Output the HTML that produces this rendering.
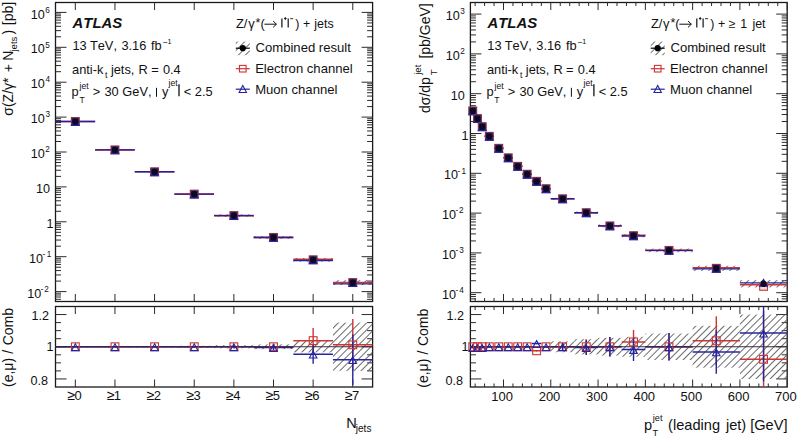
<!DOCTYPE html>
<html><head><meta charset="utf-8"><style>
html,body{margin:0;padding:0;background:#fff;}
svg{display:block;}
text{font-family:"Liberation Sans", sans-serif;fill:#111;font-kerning:none;}
</style></head><body>
<svg width="798" height="440" viewBox="0 0 798 440">
<defs><pattern id="h" patternUnits="userSpaceOnUse" width="5" height="5" patternTransform="rotate(45)"><line x1="2.5" y1="0" x2="2.5" y2="5" stroke="#5a5a5a" stroke-width="0.9"/></pattern><clipPath id="cl"><rect x="55.5" y="2.5" width="317.1" height="299.0"/></clipPath><clipPath id="cr"><rect x="470.4" y="2.5" width="316.80000000000007" height="299.0"/></clipPath><clipPath id="clr"><rect x="55.5" y="306.5" width="317.1" height="80.5"/></clipPath><clipPath id="crr"><rect x="470.4" y="306.5" width="316.80000000000007" height="80.5"/></clipPath></defs>
<rect x="55.50" y="2.50" width="317.10" height="299.00" fill="none" stroke="#1a1a1a" stroke-width="1.3"/>
<rect x="55.50" y="306.50" width="317.10" height="80.50" fill="none" stroke="#1a1a1a" stroke-width="1.3"/>
<rect x="470.40" y="2.50" width="316.80" height="299.00" fill="none" stroke="#1a1a1a" stroke-width="1.3"/>
<rect x="470.40" y="306.50" width="316.80" height="80.50" fill="none" stroke="#1a1a1a" stroke-width="1.3"/>
<line x1="55.50" y1="299.34" x2="61.00" y2="299.34" stroke="#2a2a2a" stroke-width="1.0" />
<line x1="372.60" y1="299.34" x2="367.10" y2="299.34" stroke="#2a2a2a" stroke-width="1.0" />
<line x1="55.50" y1="297.01" x2="61.00" y2="297.01" stroke="#2a2a2a" stroke-width="1.0" />
<line x1="372.60" y1="297.01" x2="367.10" y2="297.01" stroke="#2a2a2a" stroke-width="1.0" />
<line x1="55.50" y1="294.98" x2="61.00" y2="294.98" stroke="#2a2a2a" stroke-width="1.0" />
<line x1="372.60" y1="294.98" x2="367.10" y2="294.98" stroke="#2a2a2a" stroke-width="1.0" />
<line x1="55.50" y1="293.20" x2="61.00" y2="293.20" stroke="#2a2a2a" stroke-width="1.0" />
<line x1="372.60" y1="293.20" x2="367.10" y2="293.20" stroke="#2a2a2a" stroke-width="1.0" />
<line x1="55.50" y1="291.60" x2="66.50" y2="291.60" stroke="#2a2a2a" stroke-width="1.0" />
<line x1="372.60" y1="291.60" x2="361.60" y2="291.60" stroke="#2a2a2a" stroke-width="1.0" />
<line x1="55.50" y1="281.09" x2="61.00" y2="281.09" stroke="#2a2a2a" stroke-width="1.0" />
<line x1="372.60" y1="281.09" x2="367.10" y2="281.09" stroke="#2a2a2a" stroke-width="1.0" />
<line x1="55.50" y1="274.95" x2="61.00" y2="274.95" stroke="#2a2a2a" stroke-width="1.0" />
<line x1="372.60" y1="274.95" x2="367.10" y2="274.95" stroke="#2a2a2a" stroke-width="1.0" />
<line x1="55.50" y1="270.59" x2="61.00" y2="270.59" stroke="#2a2a2a" stroke-width="1.0" />
<line x1="372.60" y1="270.59" x2="367.10" y2="270.59" stroke="#2a2a2a" stroke-width="1.0" />
<line x1="55.50" y1="267.21" x2="61.00" y2="267.21" stroke="#2a2a2a" stroke-width="1.0" />
<line x1="372.60" y1="267.21" x2="367.10" y2="267.21" stroke="#2a2a2a" stroke-width="1.0" />
<line x1="55.50" y1="264.44" x2="61.00" y2="264.44" stroke="#2a2a2a" stroke-width="1.0" />
<line x1="372.60" y1="264.44" x2="367.10" y2="264.44" stroke="#2a2a2a" stroke-width="1.0" />
<line x1="55.50" y1="262.11" x2="61.00" y2="262.11" stroke="#2a2a2a" stroke-width="1.0" />
<line x1="372.60" y1="262.11" x2="367.10" y2="262.11" stroke="#2a2a2a" stroke-width="1.0" />
<line x1="55.50" y1="260.08" x2="61.00" y2="260.08" stroke="#2a2a2a" stroke-width="1.0" />
<line x1="372.60" y1="260.08" x2="367.10" y2="260.08" stroke="#2a2a2a" stroke-width="1.0" />
<line x1="55.50" y1="258.30" x2="61.00" y2="258.30" stroke="#2a2a2a" stroke-width="1.0" />
<line x1="372.60" y1="258.30" x2="367.10" y2="258.30" stroke="#2a2a2a" stroke-width="1.0" />
<line x1="55.50" y1="256.70" x2="66.50" y2="256.70" stroke="#2a2a2a" stroke-width="1.0" />
<line x1="372.60" y1="256.70" x2="361.60" y2="256.70" stroke="#2a2a2a" stroke-width="1.0" />
<line x1="55.50" y1="246.19" x2="61.00" y2="246.19" stroke="#2a2a2a" stroke-width="1.0" />
<line x1="372.60" y1="246.19" x2="367.10" y2="246.19" stroke="#2a2a2a" stroke-width="1.0" />
<line x1="55.50" y1="240.05" x2="61.00" y2="240.05" stroke="#2a2a2a" stroke-width="1.0" />
<line x1="372.60" y1="240.05" x2="367.10" y2="240.05" stroke="#2a2a2a" stroke-width="1.0" />
<line x1="55.50" y1="235.69" x2="61.00" y2="235.69" stroke="#2a2a2a" stroke-width="1.0" />
<line x1="372.60" y1="235.69" x2="367.10" y2="235.69" stroke="#2a2a2a" stroke-width="1.0" />
<line x1="55.50" y1="232.31" x2="61.00" y2="232.31" stroke="#2a2a2a" stroke-width="1.0" />
<line x1="372.60" y1="232.31" x2="367.10" y2="232.31" stroke="#2a2a2a" stroke-width="1.0" />
<line x1="55.50" y1="229.54" x2="61.00" y2="229.54" stroke="#2a2a2a" stroke-width="1.0" />
<line x1="372.60" y1="229.54" x2="367.10" y2="229.54" stroke="#2a2a2a" stroke-width="1.0" />
<line x1="55.50" y1="227.21" x2="61.00" y2="227.21" stroke="#2a2a2a" stroke-width="1.0" />
<line x1="372.60" y1="227.21" x2="367.10" y2="227.21" stroke="#2a2a2a" stroke-width="1.0" />
<line x1="55.50" y1="225.18" x2="61.00" y2="225.18" stroke="#2a2a2a" stroke-width="1.0" />
<line x1="372.60" y1="225.18" x2="367.10" y2="225.18" stroke="#2a2a2a" stroke-width="1.0" />
<line x1="55.50" y1="223.40" x2="61.00" y2="223.40" stroke="#2a2a2a" stroke-width="1.0" />
<line x1="372.60" y1="223.40" x2="367.10" y2="223.40" stroke="#2a2a2a" stroke-width="1.0" />
<line x1="55.50" y1="221.80" x2="66.50" y2="221.80" stroke="#2a2a2a" stroke-width="1.0" />
<line x1="372.60" y1="221.80" x2="361.60" y2="221.80" stroke="#2a2a2a" stroke-width="1.0" />
<line x1="55.50" y1="211.29" x2="61.00" y2="211.29" stroke="#2a2a2a" stroke-width="1.0" />
<line x1="372.60" y1="211.29" x2="367.10" y2="211.29" stroke="#2a2a2a" stroke-width="1.0" />
<line x1="55.50" y1="205.15" x2="61.00" y2="205.15" stroke="#2a2a2a" stroke-width="1.0" />
<line x1="372.60" y1="205.15" x2="367.10" y2="205.15" stroke="#2a2a2a" stroke-width="1.0" />
<line x1="55.50" y1="200.79" x2="61.00" y2="200.79" stroke="#2a2a2a" stroke-width="1.0" />
<line x1="372.60" y1="200.79" x2="367.10" y2="200.79" stroke="#2a2a2a" stroke-width="1.0" />
<line x1="55.50" y1="197.41" x2="61.00" y2="197.41" stroke="#2a2a2a" stroke-width="1.0" />
<line x1="372.60" y1="197.41" x2="367.10" y2="197.41" stroke="#2a2a2a" stroke-width="1.0" />
<line x1="55.50" y1="194.64" x2="61.00" y2="194.64" stroke="#2a2a2a" stroke-width="1.0" />
<line x1="372.60" y1="194.64" x2="367.10" y2="194.64" stroke="#2a2a2a" stroke-width="1.0" />
<line x1="55.50" y1="192.31" x2="61.00" y2="192.31" stroke="#2a2a2a" stroke-width="1.0" />
<line x1="372.60" y1="192.31" x2="367.10" y2="192.31" stroke="#2a2a2a" stroke-width="1.0" />
<line x1="55.50" y1="190.28" x2="61.00" y2="190.28" stroke="#2a2a2a" stroke-width="1.0" />
<line x1="372.60" y1="190.28" x2="367.10" y2="190.28" stroke="#2a2a2a" stroke-width="1.0" />
<line x1="55.50" y1="188.50" x2="61.00" y2="188.50" stroke="#2a2a2a" stroke-width="1.0" />
<line x1="372.60" y1="188.50" x2="367.10" y2="188.50" stroke="#2a2a2a" stroke-width="1.0" />
<line x1="55.50" y1="186.90" x2="66.50" y2="186.90" stroke="#2a2a2a" stroke-width="1.0" />
<line x1="372.60" y1="186.90" x2="361.60" y2="186.90" stroke="#2a2a2a" stroke-width="1.0" />
<line x1="55.50" y1="176.39" x2="61.00" y2="176.39" stroke="#2a2a2a" stroke-width="1.0" />
<line x1="372.60" y1="176.39" x2="367.10" y2="176.39" stroke="#2a2a2a" stroke-width="1.0" />
<line x1="55.50" y1="170.25" x2="61.00" y2="170.25" stroke="#2a2a2a" stroke-width="1.0" />
<line x1="372.60" y1="170.25" x2="367.10" y2="170.25" stroke="#2a2a2a" stroke-width="1.0" />
<line x1="55.50" y1="165.89" x2="61.00" y2="165.89" stroke="#2a2a2a" stroke-width="1.0" />
<line x1="372.60" y1="165.89" x2="367.10" y2="165.89" stroke="#2a2a2a" stroke-width="1.0" />
<line x1="55.50" y1="162.51" x2="61.00" y2="162.51" stroke="#2a2a2a" stroke-width="1.0" />
<line x1="372.60" y1="162.51" x2="367.10" y2="162.51" stroke="#2a2a2a" stroke-width="1.0" />
<line x1="55.50" y1="159.74" x2="61.00" y2="159.74" stroke="#2a2a2a" stroke-width="1.0" />
<line x1="372.60" y1="159.74" x2="367.10" y2="159.74" stroke="#2a2a2a" stroke-width="1.0" />
<line x1="55.50" y1="157.41" x2="61.00" y2="157.41" stroke="#2a2a2a" stroke-width="1.0" />
<line x1="372.60" y1="157.41" x2="367.10" y2="157.41" stroke="#2a2a2a" stroke-width="1.0" />
<line x1="55.50" y1="155.38" x2="61.00" y2="155.38" stroke="#2a2a2a" stroke-width="1.0" />
<line x1="372.60" y1="155.38" x2="367.10" y2="155.38" stroke="#2a2a2a" stroke-width="1.0" />
<line x1="55.50" y1="153.60" x2="61.00" y2="153.60" stroke="#2a2a2a" stroke-width="1.0" />
<line x1="372.60" y1="153.60" x2="367.10" y2="153.60" stroke="#2a2a2a" stroke-width="1.0" />
<line x1="55.50" y1="152.00" x2="66.50" y2="152.00" stroke="#2a2a2a" stroke-width="1.0" />
<line x1="372.60" y1="152.00" x2="361.60" y2="152.00" stroke="#2a2a2a" stroke-width="1.0" />
<line x1="55.50" y1="141.49" x2="61.00" y2="141.49" stroke="#2a2a2a" stroke-width="1.0" />
<line x1="372.60" y1="141.49" x2="367.10" y2="141.49" stroke="#2a2a2a" stroke-width="1.0" />
<line x1="55.50" y1="135.35" x2="61.00" y2="135.35" stroke="#2a2a2a" stroke-width="1.0" />
<line x1="372.60" y1="135.35" x2="367.10" y2="135.35" stroke="#2a2a2a" stroke-width="1.0" />
<line x1="55.50" y1="130.99" x2="61.00" y2="130.99" stroke="#2a2a2a" stroke-width="1.0" />
<line x1="372.60" y1="130.99" x2="367.10" y2="130.99" stroke="#2a2a2a" stroke-width="1.0" />
<line x1="55.50" y1="127.61" x2="61.00" y2="127.61" stroke="#2a2a2a" stroke-width="1.0" />
<line x1="372.60" y1="127.61" x2="367.10" y2="127.61" stroke="#2a2a2a" stroke-width="1.0" />
<line x1="55.50" y1="124.84" x2="61.00" y2="124.84" stroke="#2a2a2a" stroke-width="1.0" />
<line x1="372.60" y1="124.84" x2="367.10" y2="124.84" stroke="#2a2a2a" stroke-width="1.0" />
<line x1="55.50" y1="122.51" x2="61.00" y2="122.51" stroke="#2a2a2a" stroke-width="1.0" />
<line x1="372.60" y1="122.51" x2="367.10" y2="122.51" stroke="#2a2a2a" stroke-width="1.0" />
<line x1="55.50" y1="120.48" x2="61.00" y2="120.48" stroke="#2a2a2a" stroke-width="1.0" />
<line x1="372.60" y1="120.48" x2="367.10" y2="120.48" stroke="#2a2a2a" stroke-width="1.0" />
<line x1="55.50" y1="118.70" x2="61.00" y2="118.70" stroke="#2a2a2a" stroke-width="1.0" />
<line x1="372.60" y1="118.70" x2="367.10" y2="118.70" stroke="#2a2a2a" stroke-width="1.0" />
<line x1="55.50" y1="117.10" x2="66.50" y2="117.10" stroke="#2a2a2a" stroke-width="1.0" />
<line x1="372.60" y1="117.10" x2="361.60" y2="117.10" stroke="#2a2a2a" stroke-width="1.0" />
<line x1="55.50" y1="106.59" x2="61.00" y2="106.59" stroke="#2a2a2a" stroke-width="1.0" />
<line x1="372.60" y1="106.59" x2="367.10" y2="106.59" stroke="#2a2a2a" stroke-width="1.0" />
<line x1="55.50" y1="100.45" x2="61.00" y2="100.45" stroke="#2a2a2a" stroke-width="1.0" />
<line x1="372.60" y1="100.45" x2="367.10" y2="100.45" stroke="#2a2a2a" stroke-width="1.0" />
<line x1="55.50" y1="96.09" x2="61.00" y2="96.09" stroke="#2a2a2a" stroke-width="1.0" />
<line x1="372.60" y1="96.09" x2="367.10" y2="96.09" stroke="#2a2a2a" stroke-width="1.0" />
<line x1="55.50" y1="92.71" x2="61.00" y2="92.71" stroke="#2a2a2a" stroke-width="1.0" />
<line x1="372.60" y1="92.71" x2="367.10" y2="92.71" stroke="#2a2a2a" stroke-width="1.0" />
<line x1="55.50" y1="89.94" x2="61.00" y2="89.94" stroke="#2a2a2a" stroke-width="1.0" />
<line x1="372.60" y1="89.94" x2="367.10" y2="89.94" stroke="#2a2a2a" stroke-width="1.0" />
<line x1="55.50" y1="87.61" x2="61.00" y2="87.61" stroke="#2a2a2a" stroke-width="1.0" />
<line x1="372.60" y1="87.61" x2="367.10" y2="87.61" stroke="#2a2a2a" stroke-width="1.0" />
<line x1="55.50" y1="85.58" x2="61.00" y2="85.58" stroke="#2a2a2a" stroke-width="1.0" />
<line x1="372.60" y1="85.58" x2="367.10" y2="85.58" stroke="#2a2a2a" stroke-width="1.0" />
<line x1="55.50" y1="83.80" x2="61.00" y2="83.80" stroke="#2a2a2a" stroke-width="1.0" />
<line x1="372.60" y1="83.80" x2="367.10" y2="83.80" stroke="#2a2a2a" stroke-width="1.0" />
<line x1="55.50" y1="82.20" x2="66.50" y2="82.20" stroke="#2a2a2a" stroke-width="1.0" />
<line x1="372.60" y1="82.20" x2="361.60" y2="82.20" stroke="#2a2a2a" stroke-width="1.0" />
<line x1="55.50" y1="71.69" x2="61.00" y2="71.69" stroke="#2a2a2a" stroke-width="1.0" />
<line x1="372.60" y1="71.69" x2="367.10" y2="71.69" stroke="#2a2a2a" stroke-width="1.0" />
<line x1="55.50" y1="65.55" x2="61.00" y2="65.55" stroke="#2a2a2a" stroke-width="1.0" />
<line x1="372.60" y1="65.55" x2="367.10" y2="65.55" stroke="#2a2a2a" stroke-width="1.0" />
<line x1="55.50" y1="61.19" x2="61.00" y2="61.19" stroke="#2a2a2a" stroke-width="1.0" />
<line x1="372.60" y1="61.19" x2="367.10" y2="61.19" stroke="#2a2a2a" stroke-width="1.0" />
<line x1="55.50" y1="57.81" x2="61.00" y2="57.81" stroke="#2a2a2a" stroke-width="1.0" />
<line x1="372.60" y1="57.81" x2="367.10" y2="57.81" stroke="#2a2a2a" stroke-width="1.0" />
<line x1="55.50" y1="55.04" x2="61.00" y2="55.04" stroke="#2a2a2a" stroke-width="1.0" />
<line x1="372.60" y1="55.04" x2="367.10" y2="55.04" stroke="#2a2a2a" stroke-width="1.0" />
<line x1="55.50" y1="52.71" x2="61.00" y2="52.71" stroke="#2a2a2a" stroke-width="1.0" />
<line x1="372.60" y1="52.71" x2="367.10" y2="52.71" stroke="#2a2a2a" stroke-width="1.0" />
<line x1="55.50" y1="50.68" x2="61.00" y2="50.68" stroke="#2a2a2a" stroke-width="1.0" />
<line x1="372.60" y1="50.68" x2="367.10" y2="50.68" stroke="#2a2a2a" stroke-width="1.0" />
<line x1="55.50" y1="48.90" x2="61.00" y2="48.90" stroke="#2a2a2a" stroke-width="1.0" />
<line x1="372.60" y1="48.90" x2="367.10" y2="48.90" stroke="#2a2a2a" stroke-width="1.0" />
<line x1="55.50" y1="47.30" x2="66.50" y2="47.30" stroke="#2a2a2a" stroke-width="1.0" />
<line x1="372.60" y1="47.30" x2="361.60" y2="47.30" stroke="#2a2a2a" stroke-width="1.0" />
<line x1="55.50" y1="36.79" x2="61.00" y2="36.79" stroke="#2a2a2a" stroke-width="1.0" />
<line x1="372.60" y1="36.79" x2="367.10" y2="36.79" stroke="#2a2a2a" stroke-width="1.0" />
<line x1="55.50" y1="30.65" x2="61.00" y2="30.65" stroke="#2a2a2a" stroke-width="1.0" />
<line x1="372.60" y1="30.65" x2="367.10" y2="30.65" stroke="#2a2a2a" stroke-width="1.0" />
<line x1="55.50" y1="26.29" x2="61.00" y2="26.29" stroke="#2a2a2a" stroke-width="1.0" />
<line x1="372.60" y1="26.29" x2="367.10" y2="26.29" stroke="#2a2a2a" stroke-width="1.0" />
<line x1="55.50" y1="22.91" x2="61.00" y2="22.91" stroke="#2a2a2a" stroke-width="1.0" />
<line x1="372.60" y1="22.91" x2="367.10" y2="22.91" stroke="#2a2a2a" stroke-width="1.0" />
<line x1="55.50" y1="20.14" x2="61.00" y2="20.14" stroke="#2a2a2a" stroke-width="1.0" />
<line x1="372.60" y1="20.14" x2="367.10" y2="20.14" stroke="#2a2a2a" stroke-width="1.0" />
<line x1="55.50" y1="17.81" x2="61.00" y2="17.81" stroke="#2a2a2a" stroke-width="1.0" />
<line x1="372.60" y1="17.81" x2="367.10" y2="17.81" stroke="#2a2a2a" stroke-width="1.0" />
<line x1="55.50" y1="15.78" x2="61.00" y2="15.78" stroke="#2a2a2a" stroke-width="1.0" />
<line x1="372.60" y1="15.78" x2="367.10" y2="15.78" stroke="#2a2a2a" stroke-width="1.0" />
<line x1="55.50" y1="14.00" x2="61.00" y2="14.00" stroke="#2a2a2a" stroke-width="1.0" />
<line x1="372.60" y1="14.00" x2="367.10" y2="14.00" stroke="#2a2a2a" stroke-width="1.0" />
<line x1="55.50" y1="12.40" x2="66.50" y2="12.40" stroke="#2a2a2a" stroke-width="1.0" />
<line x1="372.60" y1="12.40" x2="361.60" y2="12.40" stroke="#2a2a2a" stroke-width="1.0" />
<line x1="55.50" y1="378.95" x2="66.50" y2="378.95" stroke="#2a2a2a" stroke-width="1.0" />
<line x1="372.60" y1="378.95" x2="361.60" y2="378.95" stroke="#2a2a2a" stroke-width="1.0" />
<line x1="55.50" y1="370.90" x2="61.00" y2="370.90" stroke="#2a2a2a" stroke-width="1.0" />
<line x1="372.60" y1="370.90" x2="367.10" y2="370.90" stroke="#2a2a2a" stroke-width="1.0" />
<line x1="55.50" y1="362.85" x2="61.00" y2="362.85" stroke="#2a2a2a" stroke-width="1.0" />
<line x1="372.60" y1="362.85" x2="367.10" y2="362.85" stroke="#2a2a2a" stroke-width="1.0" />
<line x1="55.50" y1="354.80" x2="61.00" y2="354.80" stroke="#2a2a2a" stroke-width="1.0" />
<line x1="372.60" y1="354.80" x2="367.10" y2="354.80" stroke="#2a2a2a" stroke-width="1.0" />
<line x1="55.50" y1="346.75" x2="66.50" y2="346.75" stroke="#2a2a2a" stroke-width="1.0" />
<line x1="372.60" y1="346.75" x2="361.60" y2="346.75" stroke="#2a2a2a" stroke-width="1.0" />
<line x1="55.50" y1="338.70" x2="61.00" y2="338.70" stroke="#2a2a2a" stroke-width="1.0" />
<line x1="372.60" y1="338.70" x2="367.10" y2="338.70" stroke="#2a2a2a" stroke-width="1.0" />
<line x1="55.50" y1="330.65" x2="61.00" y2="330.65" stroke="#2a2a2a" stroke-width="1.0" />
<line x1="372.60" y1="330.65" x2="367.10" y2="330.65" stroke="#2a2a2a" stroke-width="1.0" />
<line x1="55.50" y1="322.60" x2="61.00" y2="322.60" stroke="#2a2a2a" stroke-width="1.0" />
<line x1="372.60" y1="322.60" x2="367.10" y2="322.60" stroke="#2a2a2a" stroke-width="1.0" />
<line x1="55.50" y1="314.55" x2="66.50" y2="314.55" stroke="#2a2a2a" stroke-width="1.0" />
<line x1="372.60" y1="314.55" x2="361.60" y2="314.55" stroke="#2a2a2a" stroke-width="1.0" />
<line x1="75.32" y1="2.50" x2="75.32" y2="10.00" stroke="#2a2a2a" stroke-width="1.0" />
<line x1="75.32" y1="301.50" x2="75.32" y2="294.00" stroke="#2a2a2a" stroke-width="1.0" />
<line x1="75.32" y1="306.50" x2="75.32" y2="314.00" stroke="#2a2a2a" stroke-width="1.0" />
<line x1="75.32" y1="387.00" x2="75.32" y2="379.50" stroke="#2a2a2a" stroke-width="1.0" />
<line x1="114.96" y1="2.50" x2="114.96" y2="10.00" stroke="#2a2a2a" stroke-width="1.0" />
<line x1="114.96" y1="301.50" x2="114.96" y2="294.00" stroke="#2a2a2a" stroke-width="1.0" />
<line x1="114.96" y1="306.50" x2="114.96" y2="314.00" stroke="#2a2a2a" stroke-width="1.0" />
<line x1="114.96" y1="387.00" x2="114.96" y2="379.50" stroke="#2a2a2a" stroke-width="1.0" />
<line x1="154.59" y1="2.50" x2="154.59" y2="10.00" stroke="#2a2a2a" stroke-width="1.0" />
<line x1="154.59" y1="301.50" x2="154.59" y2="294.00" stroke="#2a2a2a" stroke-width="1.0" />
<line x1="154.59" y1="306.50" x2="154.59" y2="314.00" stroke="#2a2a2a" stroke-width="1.0" />
<line x1="154.59" y1="387.00" x2="154.59" y2="379.50" stroke="#2a2a2a" stroke-width="1.0" />
<line x1="194.23" y1="2.50" x2="194.23" y2="10.00" stroke="#2a2a2a" stroke-width="1.0" />
<line x1="194.23" y1="301.50" x2="194.23" y2="294.00" stroke="#2a2a2a" stroke-width="1.0" />
<line x1="194.23" y1="306.50" x2="194.23" y2="314.00" stroke="#2a2a2a" stroke-width="1.0" />
<line x1="194.23" y1="387.00" x2="194.23" y2="379.50" stroke="#2a2a2a" stroke-width="1.0" />
<line x1="233.87" y1="2.50" x2="233.87" y2="10.00" stroke="#2a2a2a" stroke-width="1.0" />
<line x1="233.87" y1="301.50" x2="233.87" y2="294.00" stroke="#2a2a2a" stroke-width="1.0" />
<line x1="233.87" y1="306.50" x2="233.87" y2="314.00" stroke="#2a2a2a" stroke-width="1.0" />
<line x1="233.87" y1="387.00" x2="233.87" y2="379.50" stroke="#2a2a2a" stroke-width="1.0" />
<line x1="273.51" y1="2.50" x2="273.51" y2="10.00" stroke="#2a2a2a" stroke-width="1.0" />
<line x1="273.51" y1="301.50" x2="273.51" y2="294.00" stroke="#2a2a2a" stroke-width="1.0" />
<line x1="273.51" y1="306.50" x2="273.51" y2="314.00" stroke="#2a2a2a" stroke-width="1.0" />
<line x1="273.51" y1="387.00" x2="273.51" y2="379.50" stroke="#2a2a2a" stroke-width="1.0" />
<line x1="313.14" y1="2.50" x2="313.14" y2="10.00" stroke="#2a2a2a" stroke-width="1.0" />
<line x1="313.14" y1="301.50" x2="313.14" y2="294.00" stroke="#2a2a2a" stroke-width="1.0" />
<line x1="313.14" y1="306.50" x2="313.14" y2="314.00" stroke="#2a2a2a" stroke-width="1.0" />
<line x1="313.14" y1="387.00" x2="313.14" y2="379.50" stroke="#2a2a2a" stroke-width="1.0" />
<line x1="352.78" y1="2.50" x2="352.78" y2="10.00" stroke="#2a2a2a" stroke-width="1.0" />
<line x1="352.78" y1="301.50" x2="352.78" y2="294.00" stroke="#2a2a2a" stroke-width="1.0" />
<line x1="352.78" y1="306.50" x2="352.78" y2="314.00" stroke="#2a2a2a" stroke-width="1.0" />
<line x1="352.78" y1="387.00" x2="352.78" y2="379.50" stroke="#2a2a2a" stroke-width="1.0" />
<line x1="470.40" y1="298.87" x2="475.90" y2="298.87" stroke="#2a2a2a" stroke-width="1.0" />
<line x1="787.20" y1="298.87" x2="781.70" y2="298.87" stroke="#2a2a2a" stroke-width="1.0" />
<line x1="470.40" y1="296.56" x2="475.90" y2="296.56" stroke="#2a2a2a" stroke-width="1.0" />
<line x1="787.20" y1="296.56" x2="781.70" y2="296.56" stroke="#2a2a2a" stroke-width="1.0" />
<line x1="470.40" y1="294.52" x2="475.90" y2="294.52" stroke="#2a2a2a" stroke-width="1.0" />
<line x1="787.20" y1="294.52" x2="781.70" y2="294.52" stroke="#2a2a2a" stroke-width="1.0" />
<line x1="470.40" y1="292.70" x2="481.40" y2="292.70" stroke="#2a2a2a" stroke-width="1.0" />
<line x1="787.20" y1="292.70" x2="776.20" y2="292.70" stroke="#2a2a2a" stroke-width="1.0" />
<line x1="470.40" y1="280.72" x2="475.90" y2="280.72" stroke="#2a2a2a" stroke-width="1.0" />
<line x1="787.20" y1="280.72" x2="781.70" y2="280.72" stroke="#2a2a2a" stroke-width="1.0" />
<line x1="470.40" y1="273.71" x2="475.90" y2="273.71" stroke="#2a2a2a" stroke-width="1.0" />
<line x1="787.20" y1="273.71" x2="781.70" y2="273.71" stroke="#2a2a2a" stroke-width="1.0" />
<line x1="470.40" y1="268.74" x2="475.90" y2="268.74" stroke="#2a2a2a" stroke-width="1.0" />
<line x1="787.20" y1="268.74" x2="781.70" y2="268.74" stroke="#2a2a2a" stroke-width="1.0" />
<line x1="470.40" y1="264.88" x2="475.90" y2="264.88" stroke="#2a2a2a" stroke-width="1.0" />
<line x1="787.20" y1="264.88" x2="781.70" y2="264.88" stroke="#2a2a2a" stroke-width="1.0" />
<line x1="470.40" y1="261.73" x2="475.90" y2="261.73" stroke="#2a2a2a" stroke-width="1.0" />
<line x1="787.20" y1="261.73" x2="781.70" y2="261.73" stroke="#2a2a2a" stroke-width="1.0" />
<line x1="470.40" y1="259.07" x2="475.90" y2="259.07" stroke="#2a2a2a" stroke-width="1.0" />
<line x1="787.20" y1="259.07" x2="781.70" y2="259.07" stroke="#2a2a2a" stroke-width="1.0" />
<line x1="470.40" y1="256.76" x2="475.90" y2="256.76" stroke="#2a2a2a" stroke-width="1.0" />
<line x1="787.20" y1="256.76" x2="781.70" y2="256.76" stroke="#2a2a2a" stroke-width="1.0" />
<line x1="470.40" y1="254.72" x2="475.90" y2="254.72" stroke="#2a2a2a" stroke-width="1.0" />
<line x1="787.20" y1="254.72" x2="781.70" y2="254.72" stroke="#2a2a2a" stroke-width="1.0" />
<line x1="470.40" y1="252.90" x2="481.40" y2="252.90" stroke="#2a2a2a" stroke-width="1.0" />
<line x1="787.20" y1="252.90" x2="776.20" y2="252.90" stroke="#2a2a2a" stroke-width="1.0" />
<line x1="470.40" y1="240.92" x2="475.90" y2="240.92" stroke="#2a2a2a" stroke-width="1.0" />
<line x1="787.20" y1="240.92" x2="781.70" y2="240.92" stroke="#2a2a2a" stroke-width="1.0" />
<line x1="470.40" y1="233.91" x2="475.90" y2="233.91" stroke="#2a2a2a" stroke-width="1.0" />
<line x1="787.20" y1="233.91" x2="781.70" y2="233.91" stroke="#2a2a2a" stroke-width="1.0" />
<line x1="470.40" y1="228.94" x2="475.90" y2="228.94" stroke="#2a2a2a" stroke-width="1.0" />
<line x1="787.20" y1="228.94" x2="781.70" y2="228.94" stroke="#2a2a2a" stroke-width="1.0" />
<line x1="470.40" y1="225.08" x2="475.90" y2="225.08" stroke="#2a2a2a" stroke-width="1.0" />
<line x1="787.20" y1="225.08" x2="781.70" y2="225.08" stroke="#2a2a2a" stroke-width="1.0" />
<line x1="470.40" y1="221.93" x2="475.90" y2="221.93" stroke="#2a2a2a" stroke-width="1.0" />
<line x1="787.20" y1="221.93" x2="781.70" y2="221.93" stroke="#2a2a2a" stroke-width="1.0" />
<line x1="470.40" y1="219.27" x2="475.90" y2="219.27" stroke="#2a2a2a" stroke-width="1.0" />
<line x1="787.20" y1="219.27" x2="781.70" y2="219.27" stroke="#2a2a2a" stroke-width="1.0" />
<line x1="470.40" y1="216.96" x2="475.90" y2="216.96" stroke="#2a2a2a" stroke-width="1.0" />
<line x1="787.20" y1="216.96" x2="781.70" y2="216.96" stroke="#2a2a2a" stroke-width="1.0" />
<line x1="470.40" y1="214.92" x2="475.90" y2="214.92" stroke="#2a2a2a" stroke-width="1.0" />
<line x1="787.20" y1="214.92" x2="781.70" y2="214.92" stroke="#2a2a2a" stroke-width="1.0" />
<line x1="470.40" y1="213.10" x2="481.40" y2="213.10" stroke="#2a2a2a" stroke-width="1.0" />
<line x1="787.20" y1="213.10" x2="776.20" y2="213.10" stroke="#2a2a2a" stroke-width="1.0" />
<line x1="470.40" y1="201.12" x2="475.90" y2="201.12" stroke="#2a2a2a" stroke-width="1.0" />
<line x1="787.20" y1="201.12" x2="781.70" y2="201.12" stroke="#2a2a2a" stroke-width="1.0" />
<line x1="470.40" y1="194.11" x2="475.90" y2="194.11" stroke="#2a2a2a" stroke-width="1.0" />
<line x1="787.20" y1="194.11" x2="781.70" y2="194.11" stroke="#2a2a2a" stroke-width="1.0" />
<line x1="470.40" y1="189.14" x2="475.90" y2="189.14" stroke="#2a2a2a" stroke-width="1.0" />
<line x1="787.20" y1="189.14" x2="781.70" y2="189.14" stroke="#2a2a2a" stroke-width="1.0" />
<line x1="470.40" y1="185.28" x2="475.90" y2="185.28" stroke="#2a2a2a" stroke-width="1.0" />
<line x1="787.20" y1="185.28" x2="781.70" y2="185.28" stroke="#2a2a2a" stroke-width="1.0" />
<line x1="470.40" y1="182.13" x2="475.90" y2="182.13" stroke="#2a2a2a" stroke-width="1.0" />
<line x1="787.20" y1="182.13" x2="781.70" y2="182.13" stroke="#2a2a2a" stroke-width="1.0" />
<line x1="470.40" y1="179.47" x2="475.90" y2="179.47" stroke="#2a2a2a" stroke-width="1.0" />
<line x1="787.20" y1="179.47" x2="781.70" y2="179.47" stroke="#2a2a2a" stroke-width="1.0" />
<line x1="470.40" y1="177.16" x2="475.90" y2="177.16" stroke="#2a2a2a" stroke-width="1.0" />
<line x1="787.20" y1="177.16" x2="781.70" y2="177.16" stroke="#2a2a2a" stroke-width="1.0" />
<line x1="470.40" y1="175.12" x2="475.90" y2="175.12" stroke="#2a2a2a" stroke-width="1.0" />
<line x1="787.20" y1="175.12" x2="781.70" y2="175.12" stroke="#2a2a2a" stroke-width="1.0" />
<line x1="470.40" y1="173.30" x2="481.40" y2="173.30" stroke="#2a2a2a" stroke-width="1.0" />
<line x1="787.20" y1="173.30" x2="776.20" y2="173.30" stroke="#2a2a2a" stroke-width="1.0" />
<line x1="470.40" y1="161.32" x2="475.90" y2="161.32" stroke="#2a2a2a" stroke-width="1.0" />
<line x1="787.20" y1="161.32" x2="781.70" y2="161.32" stroke="#2a2a2a" stroke-width="1.0" />
<line x1="470.40" y1="154.31" x2="475.90" y2="154.31" stroke="#2a2a2a" stroke-width="1.0" />
<line x1="787.20" y1="154.31" x2="781.70" y2="154.31" stroke="#2a2a2a" stroke-width="1.0" />
<line x1="470.40" y1="149.34" x2="475.90" y2="149.34" stroke="#2a2a2a" stroke-width="1.0" />
<line x1="787.20" y1="149.34" x2="781.70" y2="149.34" stroke="#2a2a2a" stroke-width="1.0" />
<line x1="470.40" y1="145.48" x2="475.90" y2="145.48" stroke="#2a2a2a" stroke-width="1.0" />
<line x1="787.20" y1="145.48" x2="781.70" y2="145.48" stroke="#2a2a2a" stroke-width="1.0" />
<line x1="470.40" y1="142.33" x2="475.90" y2="142.33" stroke="#2a2a2a" stroke-width="1.0" />
<line x1="787.20" y1="142.33" x2="781.70" y2="142.33" stroke="#2a2a2a" stroke-width="1.0" />
<line x1="470.40" y1="139.67" x2="475.90" y2="139.67" stroke="#2a2a2a" stroke-width="1.0" />
<line x1="787.20" y1="139.67" x2="781.70" y2="139.67" stroke="#2a2a2a" stroke-width="1.0" />
<line x1="470.40" y1="137.36" x2="475.90" y2="137.36" stroke="#2a2a2a" stroke-width="1.0" />
<line x1="787.20" y1="137.36" x2="781.70" y2="137.36" stroke="#2a2a2a" stroke-width="1.0" />
<line x1="470.40" y1="135.32" x2="475.90" y2="135.32" stroke="#2a2a2a" stroke-width="1.0" />
<line x1="787.20" y1="135.32" x2="781.70" y2="135.32" stroke="#2a2a2a" stroke-width="1.0" />
<line x1="470.40" y1="133.50" x2="481.40" y2="133.50" stroke="#2a2a2a" stroke-width="1.0" />
<line x1="787.20" y1="133.50" x2="776.20" y2="133.50" stroke="#2a2a2a" stroke-width="1.0" />
<line x1="470.40" y1="121.52" x2="475.90" y2="121.52" stroke="#2a2a2a" stroke-width="1.0" />
<line x1="787.20" y1="121.52" x2="781.70" y2="121.52" stroke="#2a2a2a" stroke-width="1.0" />
<line x1="470.40" y1="114.51" x2="475.90" y2="114.51" stroke="#2a2a2a" stroke-width="1.0" />
<line x1="787.20" y1="114.51" x2="781.70" y2="114.51" stroke="#2a2a2a" stroke-width="1.0" />
<line x1="470.40" y1="109.54" x2="475.90" y2="109.54" stroke="#2a2a2a" stroke-width="1.0" />
<line x1="787.20" y1="109.54" x2="781.70" y2="109.54" stroke="#2a2a2a" stroke-width="1.0" />
<line x1="470.40" y1="105.68" x2="475.90" y2="105.68" stroke="#2a2a2a" stroke-width="1.0" />
<line x1="787.20" y1="105.68" x2="781.70" y2="105.68" stroke="#2a2a2a" stroke-width="1.0" />
<line x1="470.40" y1="102.53" x2="475.90" y2="102.53" stroke="#2a2a2a" stroke-width="1.0" />
<line x1="787.20" y1="102.53" x2="781.70" y2="102.53" stroke="#2a2a2a" stroke-width="1.0" />
<line x1="470.40" y1="99.87" x2="475.90" y2="99.87" stroke="#2a2a2a" stroke-width="1.0" />
<line x1="787.20" y1="99.87" x2="781.70" y2="99.87" stroke="#2a2a2a" stroke-width="1.0" />
<line x1="470.40" y1="97.56" x2="475.90" y2="97.56" stroke="#2a2a2a" stroke-width="1.0" />
<line x1="787.20" y1="97.56" x2="781.70" y2="97.56" stroke="#2a2a2a" stroke-width="1.0" />
<line x1="470.40" y1="95.52" x2="475.90" y2="95.52" stroke="#2a2a2a" stroke-width="1.0" />
<line x1="787.20" y1="95.52" x2="781.70" y2="95.52" stroke="#2a2a2a" stroke-width="1.0" />
<line x1="470.40" y1="93.70" x2="481.40" y2="93.70" stroke="#2a2a2a" stroke-width="1.0" />
<line x1="787.20" y1="93.70" x2="776.20" y2="93.70" stroke="#2a2a2a" stroke-width="1.0" />
<line x1="470.40" y1="81.72" x2="475.90" y2="81.72" stroke="#2a2a2a" stroke-width="1.0" />
<line x1="787.20" y1="81.72" x2="781.70" y2="81.72" stroke="#2a2a2a" stroke-width="1.0" />
<line x1="470.40" y1="74.71" x2="475.90" y2="74.71" stroke="#2a2a2a" stroke-width="1.0" />
<line x1="787.20" y1="74.71" x2="781.70" y2="74.71" stroke="#2a2a2a" stroke-width="1.0" />
<line x1="470.40" y1="69.74" x2="475.90" y2="69.74" stroke="#2a2a2a" stroke-width="1.0" />
<line x1="787.20" y1="69.74" x2="781.70" y2="69.74" stroke="#2a2a2a" stroke-width="1.0" />
<line x1="470.40" y1="65.88" x2="475.90" y2="65.88" stroke="#2a2a2a" stroke-width="1.0" />
<line x1="787.20" y1="65.88" x2="781.70" y2="65.88" stroke="#2a2a2a" stroke-width="1.0" />
<line x1="470.40" y1="62.73" x2="475.90" y2="62.73" stroke="#2a2a2a" stroke-width="1.0" />
<line x1="787.20" y1="62.73" x2="781.70" y2="62.73" stroke="#2a2a2a" stroke-width="1.0" />
<line x1="470.40" y1="60.07" x2="475.90" y2="60.07" stroke="#2a2a2a" stroke-width="1.0" />
<line x1="787.20" y1="60.07" x2="781.70" y2="60.07" stroke="#2a2a2a" stroke-width="1.0" />
<line x1="470.40" y1="57.76" x2="475.90" y2="57.76" stroke="#2a2a2a" stroke-width="1.0" />
<line x1="787.20" y1="57.76" x2="781.70" y2="57.76" stroke="#2a2a2a" stroke-width="1.0" />
<line x1="470.40" y1="55.72" x2="475.90" y2="55.72" stroke="#2a2a2a" stroke-width="1.0" />
<line x1="787.20" y1="55.72" x2="781.70" y2="55.72" stroke="#2a2a2a" stroke-width="1.0" />
<line x1="470.40" y1="53.90" x2="481.40" y2="53.90" stroke="#2a2a2a" stroke-width="1.0" />
<line x1="787.20" y1="53.90" x2="776.20" y2="53.90" stroke="#2a2a2a" stroke-width="1.0" />
<line x1="470.40" y1="41.92" x2="475.90" y2="41.92" stroke="#2a2a2a" stroke-width="1.0" />
<line x1="787.20" y1="41.92" x2="781.70" y2="41.92" stroke="#2a2a2a" stroke-width="1.0" />
<line x1="470.40" y1="34.91" x2="475.90" y2="34.91" stroke="#2a2a2a" stroke-width="1.0" />
<line x1="787.20" y1="34.91" x2="781.70" y2="34.91" stroke="#2a2a2a" stroke-width="1.0" />
<line x1="470.40" y1="29.94" x2="475.90" y2="29.94" stroke="#2a2a2a" stroke-width="1.0" />
<line x1="787.20" y1="29.94" x2="781.70" y2="29.94" stroke="#2a2a2a" stroke-width="1.0" />
<line x1="470.40" y1="26.08" x2="475.90" y2="26.08" stroke="#2a2a2a" stroke-width="1.0" />
<line x1="787.20" y1="26.08" x2="781.70" y2="26.08" stroke="#2a2a2a" stroke-width="1.0" />
<line x1="470.40" y1="22.93" x2="475.90" y2="22.93" stroke="#2a2a2a" stroke-width="1.0" />
<line x1="787.20" y1="22.93" x2="781.70" y2="22.93" stroke="#2a2a2a" stroke-width="1.0" />
<line x1="470.40" y1="20.27" x2="475.90" y2="20.27" stroke="#2a2a2a" stroke-width="1.0" />
<line x1="787.20" y1="20.27" x2="781.70" y2="20.27" stroke="#2a2a2a" stroke-width="1.0" />
<line x1="470.40" y1="17.96" x2="475.90" y2="17.96" stroke="#2a2a2a" stroke-width="1.0" />
<line x1="787.20" y1="17.96" x2="781.70" y2="17.96" stroke="#2a2a2a" stroke-width="1.0" />
<line x1="470.40" y1="15.92" x2="475.90" y2="15.92" stroke="#2a2a2a" stroke-width="1.0" />
<line x1="787.20" y1="15.92" x2="781.70" y2="15.92" stroke="#2a2a2a" stroke-width="1.0" />
<line x1="470.40" y1="14.10" x2="481.40" y2="14.10" stroke="#2a2a2a" stroke-width="1.0" />
<line x1="787.20" y1="14.10" x2="776.20" y2="14.10" stroke="#2a2a2a" stroke-width="1.0" />
<line x1="470.40" y1="378.95" x2="481.40" y2="378.95" stroke="#2a2a2a" stroke-width="1.0" />
<line x1="787.20" y1="378.95" x2="776.20" y2="378.95" stroke="#2a2a2a" stroke-width="1.0" />
<line x1="470.40" y1="370.90" x2="475.90" y2="370.90" stroke="#2a2a2a" stroke-width="1.0" />
<line x1="787.20" y1="370.90" x2="781.70" y2="370.90" stroke="#2a2a2a" stroke-width="1.0" />
<line x1="470.40" y1="362.85" x2="475.90" y2="362.85" stroke="#2a2a2a" stroke-width="1.0" />
<line x1="787.20" y1="362.85" x2="781.70" y2="362.85" stroke="#2a2a2a" stroke-width="1.0" />
<line x1="470.40" y1="354.80" x2="475.90" y2="354.80" stroke="#2a2a2a" stroke-width="1.0" />
<line x1="787.20" y1="354.80" x2="781.70" y2="354.80" stroke="#2a2a2a" stroke-width="1.0" />
<line x1="470.40" y1="346.75" x2="481.40" y2="346.75" stroke="#2a2a2a" stroke-width="1.0" />
<line x1="787.20" y1="346.75" x2="776.20" y2="346.75" stroke="#2a2a2a" stroke-width="1.0" />
<line x1="470.40" y1="338.70" x2="475.90" y2="338.70" stroke="#2a2a2a" stroke-width="1.0" />
<line x1="787.20" y1="338.70" x2="781.70" y2="338.70" stroke="#2a2a2a" stroke-width="1.0" />
<line x1="470.40" y1="330.65" x2="475.90" y2="330.65" stroke="#2a2a2a" stroke-width="1.0" />
<line x1="787.20" y1="330.65" x2="781.70" y2="330.65" stroke="#2a2a2a" stroke-width="1.0" />
<line x1="470.40" y1="322.60" x2="475.90" y2="322.60" stroke="#2a2a2a" stroke-width="1.0" />
<line x1="787.20" y1="322.60" x2="781.70" y2="322.60" stroke="#2a2a2a" stroke-width="1.0" />
<line x1="470.40" y1="314.55" x2="481.40" y2="314.55" stroke="#2a2a2a" stroke-width="1.0" />
<line x1="787.20" y1="314.55" x2="776.20" y2="314.55" stroke="#2a2a2a" stroke-width="1.0" />
<line x1="475.13" y1="2.50" x2="475.13" y2="6.00" stroke="#2a2a2a" stroke-width="1.0" />
<line x1="475.13" y1="301.50" x2="475.13" y2="298.00" stroke="#2a2a2a" stroke-width="1.0" />
<line x1="475.13" y1="306.50" x2="475.13" y2="310.00" stroke="#2a2a2a" stroke-width="1.0" />
<line x1="475.13" y1="387.00" x2="475.13" y2="383.50" stroke="#2a2a2a" stroke-width="1.0" />
<line x1="484.59" y1="2.50" x2="484.59" y2="6.00" stroke="#2a2a2a" stroke-width="1.0" />
<line x1="484.59" y1="301.50" x2="484.59" y2="298.00" stroke="#2a2a2a" stroke-width="1.0" />
<line x1="484.59" y1="306.50" x2="484.59" y2="310.00" stroke="#2a2a2a" stroke-width="1.0" />
<line x1="484.59" y1="387.00" x2="484.59" y2="383.50" stroke="#2a2a2a" stroke-width="1.0" />
<line x1="494.04" y1="2.50" x2="494.04" y2="6.00" stroke="#2a2a2a" stroke-width="1.0" />
<line x1="494.04" y1="301.50" x2="494.04" y2="298.00" stroke="#2a2a2a" stroke-width="1.0" />
<line x1="494.04" y1="306.50" x2="494.04" y2="310.00" stroke="#2a2a2a" stroke-width="1.0" />
<line x1="494.04" y1="387.00" x2="494.04" y2="383.50" stroke="#2a2a2a" stroke-width="1.0" />
<line x1="503.50" y1="2.50" x2="503.50" y2="10.00" stroke="#2a2a2a" stroke-width="1.0" />
<line x1="503.50" y1="301.50" x2="503.50" y2="294.00" stroke="#2a2a2a" stroke-width="1.0" />
<line x1="503.50" y1="306.50" x2="503.50" y2="314.00" stroke="#2a2a2a" stroke-width="1.0" />
<line x1="503.50" y1="387.00" x2="503.50" y2="379.50" stroke="#2a2a2a" stroke-width="1.0" />
<line x1="512.96" y1="2.50" x2="512.96" y2="6.00" stroke="#2a2a2a" stroke-width="1.0" />
<line x1="512.96" y1="301.50" x2="512.96" y2="298.00" stroke="#2a2a2a" stroke-width="1.0" />
<line x1="512.96" y1="306.50" x2="512.96" y2="310.00" stroke="#2a2a2a" stroke-width="1.0" />
<line x1="512.96" y1="387.00" x2="512.96" y2="383.50" stroke="#2a2a2a" stroke-width="1.0" />
<line x1="522.41" y1="2.50" x2="522.41" y2="6.00" stroke="#2a2a2a" stroke-width="1.0" />
<line x1="522.41" y1="301.50" x2="522.41" y2="298.00" stroke="#2a2a2a" stroke-width="1.0" />
<line x1="522.41" y1="306.50" x2="522.41" y2="310.00" stroke="#2a2a2a" stroke-width="1.0" />
<line x1="522.41" y1="387.00" x2="522.41" y2="383.50" stroke="#2a2a2a" stroke-width="1.0" />
<line x1="531.87" y1="2.50" x2="531.87" y2="6.00" stroke="#2a2a2a" stroke-width="1.0" />
<line x1="531.87" y1="301.50" x2="531.87" y2="298.00" stroke="#2a2a2a" stroke-width="1.0" />
<line x1="531.87" y1="306.50" x2="531.87" y2="310.00" stroke="#2a2a2a" stroke-width="1.0" />
<line x1="531.87" y1="387.00" x2="531.87" y2="383.50" stroke="#2a2a2a" stroke-width="1.0" />
<line x1="541.33" y1="2.50" x2="541.33" y2="6.00" stroke="#2a2a2a" stroke-width="1.0" />
<line x1="541.33" y1="301.50" x2="541.33" y2="298.00" stroke="#2a2a2a" stroke-width="1.0" />
<line x1="541.33" y1="306.50" x2="541.33" y2="310.00" stroke="#2a2a2a" stroke-width="1.0" />
<line x1="541.33" y1="387.00" x2="541.33" y2="383.50" stroke="#2a2a2a" stroke-width="1.0" />
<line x1="550.78" y1="2.50" x2="550.78" y2="10.00" stroke="#2a2a2a" stroke-width="1.0" />
<line x1="550.78" y1="301.50" x2="550.78" y2="294.00" stroke="#2a2a2a" stroke-width="1.0" />
<line x1="550.78" y1="306.50" x2="550.78" y2="314.00" stroke="#2a2a2a" stroke-width="1.0" />
<line x1="550.78" y1="387.00" x2="550.78" y2="379.50" stroke="#2a2a2a" stroke-width="1.0" />
<line x1="560.24" y1="2.50" x2="560.24" y2="6.00" stroke="#2a2a2a" stroke-width="1.0" />
<line x1="560.24" y1="301.50" x2="560.24" y2="298.00" stroke="#2a2a2a" stroke-width="1.0" />
<line x1="560.24" y1="306.50" x2="560.24" y2="310.00" stroke="#2a2a2a" stroke-width="1.0" />
<line x1="560.24" y1="387.00" x2="560.24" y2="383.50" stroke="#2a2a2a" stroke-width="1.0" />
<line x1="569.70" y1="2.50" x2="569.70" y2="6.00" stroke="#2a2a2a" stroke-width="1.0" />
<line x1="569.70" y1="301.50" x2="569.70" y2="298.00" stroke="#2a2a2a" stroke-width="1.0" />
<line x1="569.70" y1="306.50" x2="569.70" y2="310.00" stroke="#2a2a2a" stroke-width="1.0" />
<line x1="569.70" y1="387.00" x2="569.70" y2="383.50" stroke="#2a2a2a" stroke-width="1.0" />
<line x1="579.15" y1="2.50" x2="579.15" y2="6.00" stroke="#2a2a2a" stroke-width="1.0" />
<line x1="579.15" y1="301.50" x2="579.15" y2="298.00" stroke="#2a2a2a" stroke-width="1.0" />
<line x1="579.15" y1="306.50" x2="579.15" y2="310.00" stroke="#2a2a2a" stroke-width="1.0" />
<line x1="579.15" y1="387.00" x2="579.15" y2="383.50" stroke="#2a2a2a" stroke-width="1.0" />
<line x1="588.61" y1="2.50" x2="588.61" y2="6.00" stroke="#2a2a2a" stroke-width="1.0" />
<line x1="588.61" y1="301.50" x2="588.61" y2="298.00" stroke="#2a2a2a" stroke-width="1.0" />
<line x1="588.61" y1="306.50" x2="588.61" y2="310.00" stroke="#2a2a2a" stroke-width="1.0" />
<line x1="588.61" y1="387.00" x2="588.61" y2="383.50" stroke="#2a2a2a" stroke-width="1.0" />
<line x1="598.07" y1="2.50" x2="598.07" y2="10.00" stroke="#2a2a2a" stroke-width="1.0" />
<line x1="598.07" y1="301.50" x2="598.07" y2="294.00" stroke="#2a2a2a" stroke-width="1.0" />
<line x1="598.07" y1="306.50" x2="598.07" y2="314.00" stroke="#2a2a2a" stroke-width="1.0" />
<line x1="598.07" y1="387.00" x2="598.07" y2="379.50" stroke="#2a2a2a" stroke-width="1.0" />
<line x1="607.52" y1="2.50" x2="607.52" y2="6.00" stroke="#2a2a2a" stroke-width="1.0" />
<line x1="607.52" y1="301.50" x2="607.52" y2="298.00" stroke="#2a2a2a" stroke-width="1.0" />
<line x1="607.52" y1="306.50" x2="607.52" y2="310.00" stroke="#2a2a2a" stroke-width="1.0" />
<line x1="607.52" y1="387.00" x2="607.52" y2="383.50" stroke="#2a2a2a" stroke-width="1.0" />
<line x1="616.98" y1="2.50" x2="616.98" y2="6.00" stroke="#2a2a2a" stroke-width="1.0" />
<line x1="616.98" y1="301.50" x2="616.98" y2="298.00" stroke="#2a2a2a" stroke-width="1.0" />
<line x1="616.98" y1="306.50" x2="616.98" y2="310.00" stroke="#2a2a2a" stroke-width="1.0" />
<line x1="616.98" y1="387.00" x2="616.98" y2="383.50" stroke="#2a2a2a" stroke-width="1.0" />
<line x1="626.44" y1="2.50" x2="626.44" y2="6.00" stroke="#2a2a2a" stroke-width="1.0" />
<line x1="626.44" y1="301.50" x2="626.44" y2="298.00" stroke="#2a2a2a" stroke-width="1.0" />
<line x1="626.44" y1="306.50" x2="626.44" y2="310.00" stroke="#2a2a2a" stroke-width="1.0" />
<line x1="626.44" y1="387.00" x2="626.44" y2="383.50" stroke="#2a2a2a" stroke-width="1.0" />
<line x1="635.89" y1="2.50" x2="635.89" y2="6.00" stroke="#2a2a2a" stroke-width="1.0" />
<line x1="635.89" y1="301.50" x2="635.89" y2="298.00" stroke="#2a2a2a" stroke-width="1.0" />
<line x1="635.89" y1="306.50" x2="635.89" y2="310.00" stroke="#2a2a2a" stroke-width="1.0" />
<line x1="635.89" y1="387.00" x2="635.89" y2="383.50" stroke="#2a2a2a" stroke-width="1.0" />
<line x1="645.35" y1="2.50" x2="645.35" y2="10.00" stroke="#2a2a2a" stroke-width="1.0" />
<line x1="645.35" y1="301.50" x2="645.35" y2="294.00" stroke="#2a2a2a" stroke-width="1.0" />
<line x1="645.35" y1="306.50" x2="645.35" y2="314.00" stroke="#2a2a2a" stroke-width="1.0" />
<line x1="645.35" y1="387.00" x2="645.35" y2="379.50" stroke="#2a2a2a" stroke-width="1.0" />
<line x1="654.81" y1="2.50" x2="654.81" y2="6.00" stroke="#2a2a2a" stroke-width="1.0" />
<line x1="654.81" y1="301.50" x2="654.81" y2="298.00" stroke="#2a2a2a" stroke-width="1.0" />
<line x1="654.81" y1="306.50" x2="654.81" y2="310.00" stroke="#2a2a2a" stroke-width="1.0" />
<line x1="654.81" y1="387.00" x2="654.81" y2="383.50" stroke="#2a2a2a" stroke-width="1.0" />
<line x1="664.26" y1="2.50" x2="664.26" y2="6.00" stroke="#2a2a2a" stroke-width="1.0" />
<line x1="664.26" y1="301.50" x2="664.26" y2="298.00" stroke="#2a2a2a" stroke-width="1.0" />
<line x1="664.26" y1="306.50" x2="664.26" y2="310.00" stroke="#2a2a2a" stroke-width="1.0" />
<line x1="664.26" y1="387.00" x2="664.26" y2="383.50" stroke="#2a2a2a" stroke-width="1.0" />
<line x1="673.72" y1="2.50" x2="673.72" y2="6.00" stroke="#2a2a2a" stroke-width="1.0" />
<line x1="673.72" y1="301.50" x2="673.72" y2="298.00" stroke="#2a2a2a" stroke-width="1.0" />
<line x1="673.72" y1="306.50" x2="673.72" y2="310.00" stroke="#2a2a2a" stroke-width="1.0" />
<line x1="673.72" y1="387.00" x2="673.72" y2="383.50" stroke="#2a2a2a" stroke-width="1.0" />
<line x1="683.18" y1="2.50" x2="683.18" y2="6.00" stroke="#2a2a2a" stroke-width="1.0" />
<line x1="683.18" y1="301.50" x2="683.18" y2="298.00" stroke="#2a2a2a" stroke-width="1.0" />
<line x1="683.18" y1="306.50" x2="683.18" y2="310.00" stroke="#2a2a2a" stroke-width="1.0" />
<line x1="683.18" y1="387.00" x2="683.18" y2="383.50" stroke="#2a2a2a" stroke-width="1.0" />
<line x1="692.63" y1="2.50" x2="692.63" y2="10.00" stroke="#2a2a2a" stroke-width="1.0" />
<line x1="692.63" y1="301.50" x2="692.63" y2="294.00" stroke="#2a2a2a" stroke-width="1.0" />
<line x1="692.63" y1="306.50" x2="692.63" y2="314.00" stroke="#2a2a2a" stroke-width="1.0" />
<line x1="692.63" y1="387.00" x2="692.63" y2="379.50" stroke="#2a2a2a" stroke-width="1.0" />
<line x1="702.09" y1="2.50" x2="702.09" y2="6.00" stroke="#2a2a2a" stroke-width="1.0" />
<line x1="702.09" y1="301.50" x2="702.09" y2="298.00" stroke="#2a2a2a" stroke-width="1.0" />
<line x1="702.09" y1="306.50" x2="702.09" y2="310.00" stroke="#2a2a2a" stroke-width="1.0" />
<line x1="702.09" y1="387.00" x2="702.09" y2="383.50" stroke="#2a2a2a" stroke-width="1.0" />
<line x1="711.55" y1="2.50" x2="711.55" y2="6.00" stroke="#2a2a2a" stroke-width="1.0" />
<line x1="711.55" y1="301.50" x2="711.55" y2="298.00" stroke="#2a2a2a" stroke-width="1.0" />
<line x1="711.55" y1="306.50" x2="711.55" y2="310.00" stroke="#2a2a2a" stroke-width="1.0" />
<line x1="711.55" y1="387.00" x2="711.55" y2="383.50" stroke="#2a2a2a" stroke-width="1.0" />
<line x1="721.00" y1="2.50" x2="721.00" y2="6.00" stroke="#2a2a2a" stroke-width="1.0" />
<line x1="721.00" y1="301.50" x2="721.00" y2="298.00" stroke="#2a2a2a" stroke-width="1.0" />
<line x1="721.00" y1="306.50" x2="721.00" y2="310.00" stroke="#2a2a2a" stroke-width="1.0" />
<line x1="721.00" y1="387.00" x2="721.00" y2="383.50" stroke="#2a2a2a" stroke-width="1.0" />
<line x1="730.46" y1="2.50" x2="730.46" y2="6.00" stroke="#2a2a2a" stroke-width="1.0" />
<line x1="730.46" y1="301.50" x2="730.46" y2="298.00" stroke="#2a2a2a" stroke-width="1.0" />
<line x1="730.46" y1="306.50" x2="730.46" y2="310.00" stroke="#2a2a2a" stroke-width="1.0" />
<line x1="730.46" y1="387.00" x2="730.46" y2="383.50" stroke="#2a2a2a" stroke-width="1.0" />
<line x1="739.92" y1="2.50" x2="739.92" y2="10.00" stroke="#2a2a2a" stroke-width="1.0" />
<line x1="739.92" y1="301.50" x2="739.92" y2="294.00" stroke="#2a2a2a" stroke-width="1.0" />
<line x1="739.92" y1="306.50" x2="739.92" y2="314.00" stroke="#2a2a2a" stroke-width="1.0" />
<line x1="739.92" y1="387.00" x2="739.92" y2="379.50" stroke="#2a2a2a" stroke-width="1.0" />
<line x1="749.37" y1="2.50" x2="749.37" y2="6.00" stroke="#2a2a2a" stroke-width="1.0" />
<line x1="749.37" y1="301.50" x2="749.37" y2="298.00" stroke="#2a2a2a" stroke-width="1.0" />
<line x1="749.37" y1="306.50" x2="749.37" y2="310.00" stroke="#2a2a2a" stroke-width="1.0" />
<line x1="749.37" y1="387.00" x2="749.37" y2="383.50" stroke="#2a2a2a" stroke-width="1.0" />
<line x1="758.83" y1="2.50" x2="758.83" y2="6.00" stroke="#2a2a2a" stroke-width="1.0" />
<line x1="758.83" y1="301.50" x2="758.83" y2="298.00" stroke="#2a2a2a" stroke-width="1.0" />
<line x1="758.83" y1="306.50" x2="758.83" y2="310.00" stroke="#2a2a2a" stroke-width="1.0" />
<line x1="758.83" y1="387.00" x2="758.83" y2="383.50" stroke="#2a2a2a" stroke-width="1.0" />
<line x1="768.29" y1="2.50" x2="768.29" y2="6.00" stroke="#2a2a2a" stroke-width="1.0" />
<line x1="768.29" y1="301.50" x2="768.29" y2="298.00" stroke="#2a2a2a" stroke-width="1.0" />
<line x1="768.29" y1="306.50" x2="768.29" y2="310.00" stroke="#2a2a2a" stroke-width="1.0" />
<line x1="768.29" y1="387.00" x2="768.29" y2="383.50" stroke="#2a2a2a" stroke-width="1.0" />
<line x1="777.74" y1="2.50" x2="777.74" y2="6.00" stroke="#2a2a2a" stroke-width="1.0" />
<line x1="777.74" y1="301.50" x2="777.74" y2="298.00" stroke="#2a2a2a" stroke-width="1.0" />
<line x1="777.74" y1="306.50" x2="777.74" y2="310.00" stroke="#2a2a2a" stroke-width="1.0" />
<line x1="777.74" y1="387.00" x2="777.74" y2="383.50" stroke="#2a2a2a" stroke-width="1.0" />
<line x1="787.20" y1="2.50" x2="787.20" y2="10.00" stroke="#2a2a2a" stroke-width="1.0" />
<line x1="787.20" y1="301.50" x2="787.20" y2="294.00" stroke="#2a2a2a" stroke-width="1.0" />
<line x1="787.20" y1="306.50" x2="787.20" y2="314.00" stroke="#2a2a2a" stroke-width="1.0" />
<line x1="787.20" y1="387.00" x2="787.20" y2="379.50" stroke="#2a2a2a" stroke-width="1.0" />
<text x="27.14" y="297.75" font-size="12.6">10</text>
<text x="40.64" y="291.85" font-size="8.2">-</text>
<text x="44.19" y="291.85" font-size="8.2">2</text>
<text x="29.04" y="262.85" font-size="12.6">10</text>
<text x="42.54" y="256.95" font-size="8.2">-</text>
<text x="46.68" y="256.95" font-size="8.2">1</text>
<text x="46.54" y="228.15" font-size="12.6">1</text>
<text x="35.94" y="193.05" font-size="12.6">10</text>
<text x="30.84" y="158.15" font-size="12.6">10</text>
<text x="45.29" y="152.25" font-size="8.2">2</text>
<text x="30.84" y="123.25" font-size="12.6">10</text>
<text x="45.39" y="117.35" font-size="8.2">3</text>
<text x="30.84" y="88.35" font-size="12.6">10</text>
<text x="45.51" y="82.45" font-size="8.2">4</text>
<text x="30.84" y="53.45" font-size="12.6">10</text>
<text x="45.37" y="47.55" font-size="8.2">5</text>
<text x="30.84" y="18.55" font-size="12.6">10</text>
<text x="45.28" y="12.65" font-size="8.2">6</text>
<text x="442.04" y="298.85" font-size="12.6">10</text>
<text x="455.54" y="292.95" font-size="8.2">-</text>
<text x="459.31" y="292.95" font-size="8.2">4</text>
<text x="442.04" y="259.05" font-size="12.6">10</text>
<text x="455.54" y="253.15" font-size="8.2">-</text>
<text x="459.19" y="253.15" font-size="8.2">3</text>
<text x="442.04" y="219.25" font-size="12.6">10</text>
<text x="455.54" y="213.35" font-size="8.2">-</text>
<text x="459.09" y="213.35" font-size="8.2">2</text>
<text x="443.94" y="179.45" font-size="12.6">10</text>
<text x="457.44" y="173.55" font-size="8.2">-</text>
<text x="461.58" y="173.55" font-size="8.2">1</text>
<text x="461.44" y="139.85" font-size="12.6">1</text>
<text x="450.84" y="99.85" font-size="12.6">10</text>
<text x="445.74" y="60.05" font-size="12.6">10</text>
<text x="460.19" y="54.15" font-size="8.2">2</text>
<text x="445.74" y="20.25" font-size="12.6">10</text>
<text x="460.29" y="14.35" font-size="8.2">3</text>
<text x="31.54" y="320.20" font-size="12.6">1.2</text>
<text x="46.54" y="351.40" font-size="12.6">1</text>
<text x="30.61" y="384.70" font-size="12.6">0.8</text>
<text x="446.44" y="320.20" font-size="12.6">1.2</text>
<text x="461.44" y="351.40" font-size="12.6">1</text>
<text x="445.51" y="384.70" font-size="12.6">0.8</text>
<text x="67.47" y="399.60" font-size="14.0">≥</text>
<text x="74.61" y="399.60" font-size="13.0">0</text>
<text x="107.11" y="399.60" font-size="14.0">≥</text>
<text x="113.77" y="399.60" font-size="13.0">1</text>
<text x="146.75" y="399.60" font-size="14.0">≥</text>
<text x="153.74" y="399.60" font-size="13.0">2</text>
<text x="186.39" y="399.60" font-size="14.0">≥</text>
<text x="193.54" y="399.60" font-size="13.0">3</text>
<text x="226.02" y="399.60" font-size="14.0">≥</text>
<text x="233.37" y="399.60" font-size="13.0">4</text>
<text x="265.66" y="399.60" font-size="14.0">≥</text>
<text x="272.79" y="399.60" font-size="13.0">5</text>
<text x="305.30" y="399.60" font-size="14.0">≥</text>
<text x="312.28" y="399.60" font-size="13.0">6</text>
<text x="344.94" y="399.60" font-size="14.0">≥</text>
<text x="351.91" y="399.60" font-size="13.0">7</text>
<text x="491.21" y="401.40" font-size="13.0">100</text>
<text x="538.66" y="401.40" font-size="13.0">200</text>
<text x="586.03" y="401.40" font-size="13.0">300</text>
<text x="633.41" y="401.40" font-size="13.0">400</text>
<text x="680.58" y="401.40" font-size="13.0">500</text>
<text x="727.80" y="401.40" font-size="13.0">600</text>
<text x="775.08" y="401.40" font-size="13.0">700</text>
<text transform="rotate(-90)" x="-115.69" y="12.60" font-size="14.0">σ(Z/γ*</text>
<text transform="rotate(-90)" x="-72.18" y="12.60" font-size="14.0">+</text>
<text transform="rotate(-90)" x="-60.65" y="12.60" font-size="14.0">N</text>
<text transform="rotate(-90)" x="-51.57" y="17.00" font-size="9.6">jets</text>
<text transform="rotate(-90)" x="-34.48" y="12.60" font-size="14.0">)</text>
<text transform="rotate(-90)" x="-25.20" y="12.60" font-size="14.0">[pb]</text>
<text transform="rotate(-90)" x="-386.97" y="12.90" font-size="14.0">(e,μ)</text>
<text transform="rotate(-90)" x="-353.70" y="12.90" font-size="14.0">/</text>
<text transform="rotate(-90)" x="-345.31" y="12.90" font-size="14.0">Comb</text>
<text transform="rotate(-90)" x="-387.77" y="428.00" font-size="14.0">(e,μ)</text>
<text transform="rotate(-90)" x="-354.50" y="428.00" font-size="14.0">/</text>
<text transform="rotate(-90)" x="-346.11" y="428.00" font-size="14.0">Comb</text>
<text transform="rotate(-90)" x="-112.99" y="430.30" font-size="14.0">dσ/dp</text>
<text transform="rotate(-90)" x="-74.77" y="421.00" font-size="9.6">jet</text>
<text transform="rotate(-90)" x="-75.22" y="437.20" font-size="9.6">T</text>
<text transform="rotate(-90)" x="-58.60" y="430.30" font-size="14.0">[pb/GeV]</text>
<text x="346.20" y="427.60" font-size="14.6">N</text>
<text x="355.84" y="432.40" font-size="10.0">jets</text>
<text x="644.06" y="429.80" font-size="14.6">p</text>
<text x="652.82" y="421.00" font-size="9.2">jet</text>
<text x="652.59" y="436.20" font-size="9.2">T</text>
<text x="668.09" y="429.80" font-size="14.6">(leading</text>
<text x="725.96" y="429.80" font-size="14.6">jet)</text>
<text x="750.16" y="429.80" font-size="14.6">[GeV]</text>
<text x="72.61" y="27.60" font-size="14.9" font-weight="bold" font-style="italic">ATLAS</text>
<text x="72.43" y="50.40" font-size="12.8">13</text>
<text x="89.91" y="50.40" font-size="12.8">TeV,</text>
<text x="121.41" y="50.40" font-size="12.8">3.16</text>
<text x="151.02" y="50.40" font-size="12.8">fb</text>
<text x="162.38" y="44.60" font-size="8.6">−</text>
<text x="167.45" y="43.80" font-size="7.2">1</text>
<text x="72.06" y="73.60" font-size="12.8">anti-k</text>
<text x="105.07" y="78.00" font-size="8.6">t</text>
<text x="110.91" y="73.60" font-size="12.8">jets,</text>
<text x="138.55" y="73.60" font-size="12.8">R</text>
<text x="151.18" y="73.60" font-size="12.8">=</text>
<text x="162.90" y="73.60" font-size="12.8">0.4</text>
<text x="71.58" y="95.80" font-size="12.8">p</text>
<text x="79.61" y="88.90" font-size="8.6">jet</text>
<text x="79.41" y="102.80" font-size="8.6">T</text>
<text x="92.77" y="95.60" font-size="12.8">&gt;</text>
<text x="104.51" y="95.60" font-size="12.8">30</text>
<text x="122.36" y="95.60" font-size="12.8">GeV,</text>
<line x1="156.50" y1="87.80" x2="156.50" y2="96.80" stroke="#111" stroke-width="1.0" />
<text x="161.97" y="95.60" font-size="12.8">y</text>
<text x="168.61" y="86.40" font-size="8.6">jet</text>
<line x1="179.00" y1="84.30" x2="179.00" y2="96.30" stroke="#111" stroke-width="1.3" />
<text x="183.87" y="95.60" font-size="12.8">&lt;</text>
<text x="194.86" y="95.60" font-size="12.8">2.5</text>
<text x="487.51" y="27.60" font-size="14.9" font-weight="bold" font-style="italic">ATLAS</text>
<text x="487.32" y="50.40" font-size="12.8">13</text>
<text x="504.81" y="50.40" font-size="12.8">TeV,</text>
<text x="536.31" y="50.40" font-size="12.8">3.16</text>
<text x="565.92" y="50.40" font-size="12.8">fb</text>
<text x="577.28" y="44.60" font-size="8.6">−</text>
<text x="582.35" y="43.80" font-size="7.2">1</text>
<text x="486.96" y="73.60" font-size="12.8">anti-k</text>
<text x="519.97" y="78.00" font-size="8.6">t</text>
<text x="525.81" y="73.60" font-size="12.8">jets,</text>
<text x="553.45" y="73.60" font-size="12.8">R</text>
<text x="566.08" y="73.60" font-size="12.8">=</text>
<text x="577.80" y="73.60" font-size="12.8">0.4</text>
<text x="486.47" y="95.80" font-size="12.8">p</text>
<text x="494.51" y="88.90" font-size="8.6">jet</text>
<text x="494.31" y="102.80" font-size="8.6">T</text>
<text x="507.67" y="95.60" font-size="12.8">&gt;</text>
<text x="519.41" y="95.60" font-size="12.8">30</text>
<text x="537.26" y="95.60" font-size="12.8">GeV,</text>
<line x1="571.40" y1="87.80" x2="571.40" y2="96.80" stroke="#111" stroke-width="1.0" />
<text x="576.87" y="95.60" font-size="12.8">y</text>
<text x="583.51" y="86.40" font-size="8.6">jet</text>
<line x1="593.90" y1="84.30" x2="593.90" y2="96.30" stroke="#111" stroke-width="1.3" />
<text x="598.77" y="95.60" font-size="12.8">&lt;</text>
<text x="609.76" y="95.60" font-size="12.8">2.5</text>
<text x="235.99" y="27.60" font-size="12.9">Z/</text>
<text x="248.16" y="27.60" font-size="13.0">γ</text>
<text x="255.50" y="26.90" font-size="12.4">*</text>
<text x="260.40" y="27.60" font-size="12.9">(</text>
<line x1="264.40" y1="24.20" x2="276.40" y2="24.20" stroke="#111" stroke-width="1.0" />
<path d="M273.10,21.00 L276.40,24.20 L273.10,27.40" fill="none" stroke="#111" stroke-width="1.0"/>
<line x1="281.90" y1="18.60" x2="281.90" y2="27.40" stroke="#111" stroke-width="1.2" />
<line x1="284.00" y1="18.50" x2="286.60" y2="18.50" stroke="#111" stroke-width="0.9" />
<line x1="285.30" y1="17.00" x2="285.30" y2="20.10" stroke="#111" stroke-width="0.9" />
<line x1="288.20" y1="18.60" x2="288.20" y2="27.40" stroke="#111" stroke-width="1.2" />
<line x1="290.20" y1="18.70" x2="293.20" y2="18.70" stroke="#111" stroke-width="0.9" />
<text x="295.33" y="27.60" font-size="12.4">)</text>
<text x="302.99" y="27.60" font-size="12.4">+</text>
<text x="314.30" y="27.60" font-size="12.4">jets</text>
<rect x="235.80" y="41.6" width="14" height="13.6" fill="url(#h)"/>
<line x1="235.80" y1="48.20" x2="249.80" y2="48.20" stroke="#000" stroke-width="1.2" />
<circle cx="242.80" cy="48.2" r="3.1" fill="#000"/>
<text x="255.53" y="52.00" font-size="13.1">Combined result</text>
<line x1="235.80" y1="68.70" x2="249.80" y2="68.70" stroke="#cc3535" stroke-width="1.2" />
<rect x="239.50" y="65.4" width="6.6" height="6.6" fill="none" stroke="#cc3535" stroke-width="1.1"/>
<text x="255.13" y="73.20" font-size="13.1">Electron channel</text>
<line x1="235.80" y1="89.20" x2="249.80" y2="89.20" stroke="#2424a0" stroke-width="1.2" />
<polygon points="242.80,85.4 246.50,92.5 239.10,92.5" fill="none" stroke="#2424a0" stroke-width="1.1"/>
<text x="255.13" y="93.60" font-size="13.1">Muon channel</text>
<text x="650.89" y="27.60" font-size="12.9">Z/</text>
<text x="663.06" y="27.60" font-size="13.0">γ</text>
<text x="670.40" y="26.90" font-size="12.4">*</text>
<text x="675.30" y="27.60" font-size="12.9">(</text>
<line x1="679.30" y1="24.20" x2="691.30" y2="24.20" stroke="#111" stroke-width="1.0" />
<path d="M688.00,21.00 L691.30,24.20 L688.00,27.40" fill="none" stroke="#111" stroke-width="1.0"/>
<line x1="696.80" y1="18.60" x2="696.80" y2="27.40" stroke="#111" stroke-width="1.2" />
<line x1="698.90" y1="18.50" x2="701.50" y2="18.50" stroke="#111" stroke-width="0.9" />
<line x1="700.20" y1="17.00" x2="700.20" y2="20.10" stroke="#111" stroke-width="0.9" />
<line x1="703.10" y1="18.60" x2="703.10" y2="27.40" stroke="#111" stroke-width="1.2" />
<line x1="705.10" y1="18.70" x2="708.10" y2="18.70" stroke="#111" stroke-width="0.9" />
<text x="710.23" y="27.60" font-size="12.4">)</text>
<text x="717.89" y="27.60" font-size="12.4">+</text>
<text x="728.71" y="27.60" font-size="12.4">≥</text>
<text x="740.16" y="27.60" font-size="12.4">1</text>
<text x="752.40" y="27.60" font-size="12.4">jet</text>
<rect x="650.70" y="41.6" width="14" height="13.6" fill="url(#h)"/>
<line x1="650.70" y1="48.20" x2="664.70" y2="48.20" stroke="#000" stroke-width="1.2" />
<circle cx="657.70" cy="48.2" r="3.1" fill="#000"/>
<text x="670.43" y="52.00" font-size="13.1">Combined result</text>
<line x1="650.70" y1="68.70" x2="664.70" y2="68.70" stroke="#cc3535" stroke-width="1.2" />
<rect x="654.40" y="65.4" width="6.6" height="6.6" fill="none" stroke="#cc3535" stroke-width="1.1"/>
<text x="670.03" y="73.20" font-size="13.1">Electron channel</text>
<line x1="650.70" y1="89.20" x2="664.70" y2="89.20" stroke="#2424a0" stroke-width="1.2" />
<polygon points="657.70,85.4 661.40,92.5 654.00,92.5" fill="none" stroke="#2424a0" stroke-width="1.1"/>
<text x="670.03" y="93.60" font-size="13.1">Muon channel</text>
<g clip-path="url(#cl)">
<rect x="214.05" y="214.40" width="39.64" height="2.40" fill="url(#h)"/>
<rect x="253.69" y="236.00" width="39.64" height="2.80" fill="url(#h)"/>
<rect x="293.33" y="258.00" width="39.64" height="3.60" fill="url(#h)"/>
<rect x="332.96" y="280.20" width="39.64" height="4.80" fill="url(#h)"/>
<line x1="55.50" y1="121.50" x2="95.14" y2="121.50" stroke="#cc3535" stroke-width="1.6" />
<line x1="55.50" y1="121.50" x2="95.14" y2="121.50" stroke="#24209a" stroke-width="1.4" />
<line x1="95.14" y1="149.90" x2="134.78" y2="149.90" stroke="#cc3535" stroke-width="1.6" />
<line x1="95.14" y1="149.90" x2="134.78" y2="149.90" stroke="#24209a" stroke-width="1.4" />
<line x1="134.78" y1="171.80" x2="174.41" y2="171.80" stroke="#cc3535" stroke-width="1.6" />
<line x1="134.78" y1="171.80" x2="174.41" y2="171.80" stroke="#24209a" stroke-width="1.4" />
<line x1="174.41" y1="194.10" x2="214.05" y2="194.10" stroke="#cc3535" stroke-width="1.6" />
<line x1="174.41" y1="194.10" x2="214.05" y2="194.10" stroke="#24209a" stroke-width="1.4" />
<line x1="214.05" y1="215.60" x2="253.69" y2="215.60" stroke="#cc3535" stroke-width="1.6" />
<line x1="214.05" y1="215.60" x2="253.69" y2="215.60" stroke="#24209a" stroke-width="1.4" />
<line x1="253.69" y1="237.40" x2="293.32" y2="237.40" stroke="#cc3535" stroke-width="1.6" />
<line x1="253.69" y1="237.50" x2="293.32" y2="237.50" stroke="#24209a" stroke-width="1.4" />
<line x1="293.33" y1="259.20" x2="332.96" y2="259.20" stroke="#cc3535" stroke-width="1.6" />
<line x1="293.33" y1="260.50" x2="332.96" y2="260.50" stroke="#24209a" stroke-width="1.4" />
<line x1="332.96" y1="282.45" x2="372.60" y2="282.45" stroke="#cc3535" stroke-width="1.6" />
<line x1="332.96" y1="283.85" x2="372.60" y2="283.85" stroke="#24209a" stroke-width="1.4" />
</g>
<rect x="71.42" y="117.60" width="7.8" height="7.8" fill="#2a1e5a" stroke="#8a3048" stroke-width="1.1"/>
<polygon points="75.32,118.40 79.22,125.40 71.42,125.40" fill="#1a1662" stroke="#2424a0" stroke-width="1.1"/>
<circle cx="75.32" cy="121.50" r="3.1" fill="#0a0a22"/>
<rect x="111.06" y="146.00" width="7.8" height="7.8" fill="#2a1e5a" stroke="#8a3048" stroke-width="1.1"/>
<polygon points="114.96,146.80 118.86,153.80 111.06,153.80" fill="#1a1662" stroke="#2424a0" stroke-width="1.1"/>
<circle cx="114.96" cy="149.90" r="3.1" fill="#0a0a22"/>
<rect x="150.69" y="167.90" width="7.8" height="7.8" fill="#2a1e5a" stroke="#8a3048" stroke-width="1.1"/>
<polygon points="154.59,168.70 158.49,175.70 150.69,175.70" fill="#1a1662" stroke="#2424a0" stroke-width="1.1"/>
<circle cx="154.59" cy="171.80" r="3.1" fill="#0a0a22"/>
<rect x="190.33" y="190.20" width="7.8" height="7.8" fill="#2a1e5a" stroke="#8a3048" stroke-width="1.1"/>
<polygon points="194.23,191.00 198.13,198.00 190.33,198.00" fill="#1a1662" stroke="#2424a0" stroke-width="1.1"/>
<circle cx="194.23" cy="194.10" r="3.1" fill="#0a0a22"/>
<rect x="229.97" y="211.70" width="7.8" height="7.8" fill="#2a1e5a" stroke="#8a3048" stroke-width="1.1"/>
<polygon points="233.87,212.50 237.77,219.50 229.97,219.50" fill="#1a1662" stroke="#2424a0" stroke-width="1.1"/>
<circle cx="233.87" cy="215.60" r="3.1" fill="#0a0a22"/>
<rect x="269.61" y="233.50" width="7.8" height="7.8" fill="#2a1e5a" stroke="#8a3048" stroke-width="1.1"/>
<polygon points="273.51,234.30 277.41,241.30 269.61,241.30" fill="#1a1662" stroke="#2424a0" stroke-width="1.1"/>
<circle cx="273.51" cy="237.40" r="3.1" fill="#0a0a22"/>
<rect x="309.24" y="255.90" width="7.8" height="7.8" fill="#2a1e5a" stroke="#8a3048" stroke-width="1.1"/>
<polygon points="313.14,256.70 317.04,263.70 309.24,263.70" fill="#1a1662" stroke="#2424a0" stroke-width="1.1"/>
<circle cx="313.14" cy="259.80" r="3.1" fill="#0a0a22"/>
<rect x="348.88" y="278.70" width="7.8" height="7.8" fill="#2a1e5a" stroke="#8a3048" stroke-width="1.1"/>
<polygon points="352.78,279.50 356.68,286.50 348.88,286.50" fill="#1a1662" stroke="#2424a0" stroke-width="1.1"/>
<circle cx="352.78" cy="282.60" r="3.1" fill="#0a0a22"/>
<g clip-path="url(#cr)">
<rect x="550.78" y="197.80" width="23.64" height="2.00" fill="url(#h)"/>
<rect x="574.42" y="211.50" width="23.64" height="2.40" fill="url(#h)"/>
<rect x="598.07" y="224.50" width="23.64" height="2.80" fill="url(#h)"/>
<rect x="621.71" y="234.10" width="23.64" height="3.20" fill="url(#h)"/>
<rect x="645.35" y="248.60" width="47.28" height="3.60" fill="url(#h)"/>
<rect x="692.63" y="265.70" width="47.28" height="5.20" fill="url(#h)"/>
<rect x="739.92" y="280.20" width="47.28" height="7.20" fill="url(#h)"/>
<line x1="470.40" y1="110.90" x2="475.13" y2="110.90" stroke="#cc3535" stroke-width="1.6" />
<line x1="470.40" y1="110.90" x2="475.13" y2="110.90" stroke="#24209a" stroke-width="1.4" />
<line x1="475.13" y1="118.60" x2="479.86" y2="118.60" stroke="#cc3535" stroke-width="1.6" />
<line x1="475.13" y1="118.60" x2="479.86" y2="118.60" stroke="#24209a" stroke-width="1.4" />
<line x1="479.86" y1="126.70" x2="484.59" y2="126.70" stroke="#cc3535" stroke-width="1.6" />
<line x1="479.86" y1="126.70" x2="484.59" y2="126.70" stroke="#24209a" stroke-width="1.4" />
<line x1="484.59" y1="136.30" x2="494.04" y2="136.30" stroke="#cc3535" stroke-width="1.6" />
<line x1="484.59" y1="136.30" x2="494.04" y2="136.30" stroke="#24209a" stroke-width="1.4" />
<line x1="494.04" y1="148.30" x2="503.50" y2="148.30" stroke="#cc3535" stroke-width="1.6" />
<line x1="494.04" y1="148.30" x2="503.50" y2="148.30" stroke="#24209a" stroke-width="1.4" />
<line x1="503.50" y1="157.80" x2="512.96" y2="157.80" stroke="#cc3535" stroke-width="1.6" />
<line x1="503.50" y1="157.80" x2="512.96" y2="157.80" stroke="#24209a" stroke-width="1.4" />
<line x1="512.96" y1="166.30" x2="522.41" y2="166.30" stroke="#cc3535" stroke-width="1.6" />
<line x1="512.96" y1="166.30" x2="522.41" y2="166.30" stroke="#24209a" stroke-width="1.4" />
<line x1="522.41" y1="174.20" x2="531.87" y2="174.20" stroke="#cc3535" stroke-width="1.6" />
<line x1="522.41" y1="174.20" x2="531.87" y2="174.20" stroke="#24209a" stroke-width="1.4" />
<line x1="531.87" y1="181.30" x2="541.33" y2="181.30" stroke="#cc3535" stroke-width="1.6" />
<line x1="531.87" y1="181.30" x2="541.33" y2="181.30" stroke="#24209a" stroke-width="1.4" />
<line x1="541.33" y1="188.70" x2="550.78" y2="188.70" stroke="#cc3535" stroke-width="1.6" />
<line x1="541.33" y1="188.70" x2="550.78" y2="188.70" stroke="#24209a" stroke-width="1.4" />
<line x1="550.78" y1="198.80" x2="574.42" y2="198.80" stroke="#cc3535" stroke-width="1.6" />
<line x1="550.78" y1="198.80" x2="574.42" y2="198.80" stroke="#24209a" stroke-width="1.4" />
<line x1="574.42" y1="212.70" x2="598.07" y2="212.70" stroke="#cc3535" stroke-width="1.6" />
<line x1="574.42" y1="212.70" x2="598.07" y2="212.70" stroke="#24209a" stroke-width="1.4" />
<line x1="598.07" y1="225.90" x2="621.71" y2="225.90" stroke="#cc3535" stroke-width="1.6" />
<line x1="598.07" y1="225.90" x2="621.71" y2="225.90" stroke="#24209a" stroke-width="1.4" />
<line x1="621.71" y1="235.20" x2="645.35" y2="235.20" stroke="#cc3535" stroke-width="1.6" />
<line x1="621.71" y1="236.00" x2="645.35" y2="236.00" stroke="#24209a" stroke-width="1.4" />
<line x1="645.35" y1="250.40" x2="692.63" y2="250.40" stroke="#cc3535" stroke-width="1.6" />
<line x1="645.35" y1="250.40" x2="692.63" y2="250.40" stroke="#24209a" stroke-width="1.4" />
<line x1="692.63" y1="267.70" x2="739.92" y2="267.70" stroke="#cc3535" stroke-width="1.6" />
<line x1="692.63" y1="268.90" x2="739.92" y2="268.90" stroke="#24209a" stroke-width="1.4" />
<line x1="739.92" y1="284.80" x2="787.20" y2="284.80" stroke="#cc3535" stroke-width="1.6" />
<line x1="739.92" y1="282.90" x2="787.20" y2="282.90" stroke="#24209a" stroke-width="1.4" />
</g>
<rect x="468.86" y="107.00" width="7.8" height="7.8" fill="#2a1e5a" stroke="#8a3048" stroke-width="1.1"/>
<polygon points="472.76,107.80 476.66,114.80 468.86,114.80" fill="#1a1662" stroke="#2424a0" stroke-width="1.1"/>
<circle cx="472.76" cy="110.90" r="3.1" fill="#0a0a22"/>
<rect x="473.59" y="114.70" width="7.8" height="7.8" fill="#2a1e5a" stroke="#8a3048" stroke-width="1.1"/>
<polygon points="477.49,115.50 481.39,122.50 473.59,122.50" fill="#1a1662" stroke="#2424a0" stroke-width="1.1"/>
<circle cx="477.49" cy="118.60" r="3.1" fill="#0a0a22"/>
<rect x="478.32" y="122.80" width="7.8" height="7.8" fill="#2a1e5a" stroke="#8a3048" stroke-width="1.1"/>
<polygon points="482.22,123.60 486.12,130.60 478.32,130.60" fill="#1a1662" stroke="#2424a0" stroke-width="1.1"/>
<circle cx="482.22" cy="126.70" r="3.1" fill="#0a0a22"/>
<rect x="485.41" y="132.40" width="7.8" height="7.8" fill="#2a1e5a" stroke="#8a3048" stroke-width="1.1"/>
<polygon points="489.31,133.20 493.21,140.20 485.41,140.20" fill="#1a1662" stroke="#2424a0" stroke-width="1.1"/>
<circle cx="489.31" cy="136.30" r="3.1" fill="#0a0a22"/>
<rect x="494.87" y="144.40" width="7.8" height="7.8" fill="#2a1e5a" stroke="#8a3048" stroke-width="1.1"/>
<polygon points="498.77,145.20 502.67,152.20 494.87,152.20" fill="#1a1662" stroke="#2424a0" stroke-width="1.1"/>
<circle cx="498.77" cy="148.30" r="3.1" fill="#0a0a22"/>
<rect x="504.33" y="153.90" width="7.8" height="7.8" fill="#2a1e5a" stroke="#8a3048" stroke-width="1.1"/>
<polygon points="508.23,154.70 512.13,161.70 504.33,161.70" fill="#1a1662" stroke="#2424a0" stroke-width="1.1"/>
<circle cx="508.23" cy="157.80" r="3.1" fill="#0a0a22"/>
<rect x="513.78" y="162.40" width="7.8" height="7.8" fill="#2a1e5a" stroke="#8a3048" stroke-width="1.1"/>
<polygon points="517.68,163.20 521.58,170.20 513.78,170.20" fill="#1a1662" stroke="#2424a0" stroke-width="1.1"/>
<circle cx="517.68" cy="166.30" r="3.1" fill="#0a0a22"/>
<rect x="523.24" y="170.30" width="7.8" height="7.8" fill="#2a1e5a" stroke="#8a3048" stroke-width="1.1"/>
<polygon points="527.14,171.10 531.04,178.10 523.24,178.10" fill="#1a1662" stroke="#2424a0" stroke-width="1.1"/>
<circle cx="527.14" cy="174.20" r="3.1" fill="#0a0a22"/>
<rect x="532.70" y="177.40" width="7.8" height="7.8" fill="#2a1e5a" stroke="#8a3048" stroke-width="1.1"/>
<polygon points="536.60,178.20 540.50,185.20 532.70,185.20" fill="#1a1662" stroke="#2424a0" stroke-width="1.1"/>
<circle cx="536.60" cy="181.30" r="3.1" fill="#0a0a22"/>
<rect x="542.15" y="184.80" width="7.8" height="7.8" fill="#2a1e5a" stroke="#8a3048" stroke-width="1.1"/>
<polygon points="546.05,185.60 549.95,192.60 542.15,192.60" fill="#1a1662" stroke="#2424a0" stroke-width="1.1"/>
<circle cx="546.05" cy="188.70" r="3.1" fill="#0a0a22"/>
<rect x="558.70" y="194.90" width="7.8" height="7.8" fill="#2a1e5a" stroke="#8a3048" stroke-width="1.1"/>
<polygon points="562.60,195.70 566.50,202.70 558.70,202.70" fill="#1a1662" stroke="#2424a0" stroke-width="1.1"/>
<circle cx="562.60" cy="198.80" r="3.1" fill="#0a0a22"/>
<rect x="582.34" y="208.80" width="7.8" height="7.8" fill="#2a1e5a" stroke="#8a3048" stroke-width="1.1"/>
<polygon points="586.24,209.60 590.14,216.60 582.34,216.60" fill="#1a1662" stroke="#2424a0" stroke-width="1.1"/>
<circle cx="586.24" cy="212.70" r="3.1" fill="#0a0a22"/>
<rect x="605.99" y="222.00" width="7.8" height="7.8" fill="#2a1e5a" stroke="#8a3048" stroke-width="1.1"/>
<polygon points="609.89,222.80 613.79,229.80 605.99,229.80" fill="#1a1662" stroke="#2424a0" stroke-width="1.1"/>
<circle cx="609.89" cy="225.90" r="3.1" fill="#0a0a22"/>
<rect x="629.63" y="231.80" width="7.8" height="7.8" fill="#2a1e5a" stroke="#8a3048" stroke-width="1.1"/>
<polygon points="633.53,232.60 637.43,239.60 629.63,239.60" fill="#1a1662" stroke="#2424a0" stroke-width="1.1"/>
<circle cx="633.53" cy="235.70" r="3.1" fill="#0a0a22"/>
<rect x="665.09" y="246.50" width="7.8" height="7.8" fill="#2a1e5a" stroke="#8a3048" stroke-width="1.1"/>
<polygon points="668.99,247.30 672.89,254.30 665.09,254.30" fill="#1a1662" stroke="#2424a0" stroke-width="1.1"/>
<circle cx="668.99" cy="250.40" r="3.1" fill="#0a0a22"/>
<rect x="712.37" y="264.40" width="7.8" height="7.8" fill="#2a1e5a" stroke="#8a3048" stroke-width="1.1"/>
<polygon points="716.27,265.20 720.17,272.20 712.37,272.20" fill="#1a1662" stroke="#2424a0" stroke-width="1.1"/>
<circle cx="716.27" cy="268.30" r="3.1" fill="#0a0a22"/>
<rect x="759.66" y="282.50" width="7.8" height="7.8" fill="#f0d8d8" stroke="#c04040" stroke-width="1.1"/>
<polygon points="763.56,279.30 767.46,286.30 759.66,286.30" fill="#1a1662" stroke="#2424a0" stroke-width="1.1"/>
<circle cx="763.56" cy="283.80" r="3.1" fill="#0a0a22"/>
<g clip-path="url(#clr)">
<rect x="55.50" y="346.11" width="39.64" height="1.29" fill="url(#h)"/>
<rect x="95.14" y="346.11" width="39.64" height="1.29" fill="url(#h)"/>
<rect x="134.78" y="345.94" width="39.64" height="1.61" fill="url(#h)"/>
<rect x="174.41" y="345.78" width="39.64" height="1.93" fill="url(#h)"/>
<rect x="214.05" y="345.14" width="39.64" height="3.22" fill="url(#h)"/>
<rect x="253.69" y="344.34" width="39.64" height="4.83" fill="url(#h)"/>
<rect x="293.33" y="341.12" width="39.64" height="11.27" fill="url(#h)"/>
<rect x="332.96" y="322.60" width="39.64" height="48.30" fill="url(#h)"/>
<line x1="55.50" y1="346.75" x2="95.14" y2="346.75" stroke="#cc3535" stroke-width="1.5" />
<line x1="75.32" y1="346.27" x2="75.32" y2="347.23" stroke="#cc3535" stroke-width="1.4" />
<line x1="95.14" y1="346.75" x2="134.78" y2="346.75" stroke="#cc3535" stroke-width="1.5" />
<line x1="114.96" y1="346.27" x2="114.96" y2="347.23" stroke="#cc3535" stroke-width="1.4" />
<line x1="134.78" y1="346.75" x2="174.41" y2="346.75" stroke="#cc3535" stroke-width="1.5" />
<line x1="154.59" y1="346.11" x2="154.59" y2="347.39" stroke="#cc3535" stroke-width="1.4" />
<line x1="174.41" y1="346.75" x2="214.05" y2="346.75" stroke="#cc3535" stroke-width="1.5" />
<line x1="194.23" y1="345.94" x2="194.23" y2="347.56" stroke="#cc3535" stroke-width="1.4" />
<line x1="214.05" y1="346.75" x2="253.69" y2="346.75" stroke="#cc3535" stroke-width="1.5" />
<line x1="233.87" y1="345.14" x2="233.87" y2="348.36" stroke="#cc3535" stroke-width="1.4" />
<line x1="253.69" y1="346.75" x2="293.33" y2="346.75" stroke="#cc3535" stroke-width="1.5" />
<line x1="273.51" y1="343.53" x2="273.51" y2="349.97" stroke="#cc3535" stroke-width="1.4" />
<line x1="293.33" y1="340.63" x2="332.96" y2="340.63" stroke="#cc3535" stroke-width="1.5" />
<line x1="313.14" y1="328.07" x2="313.14" y2="353.19" stroke="#cc3535" stroke-width="1.4" />
<line x1="332.96" y1="344.82" x2="372.60" y2="344.82" stroke="#cc3535" stroke-width="1.5" />
<line x1="352.78" y1="319.06" x2="352.78" y2="370.58" stroke="#cc3535" stroke-width="1.4" />
<line x1="55.50" y1="346.75" x2="95.14" y2="346.75" stroke="#2424a0" stroke-width="1.5" />
<line x1="75.32" y1="346.27" x2="75.32" y2="347.23" stroke="#2424a0" stroke-width="1.4" />
<line x1="95.14" y1="346.75" x2="134.78" y2="346.75" stroke="#2424a0" stroke-width="1.5" />
<line x1="114.96" y1="346.27" x2="114.96" y2="347.23" stroke="#2424a0" stroke-width="1.4" />
<line x1="134.78" y1="346.75" x2="174.41" y2="346.75" stroke="#2424a0" stroke-width="1.5" />
<line x1="154.59" y1="346.11" x2="154.59" y2="347.39" stroke="#2424a0" stroke-width="1.4" />
<line x1="174.41" y1="346.75" x2="214.05" y2="346.75" stroke="#2424a0" stroke-width="1.5" />
<line x1="194.23" y1="345.94" x2="194.23" y2="347.56" stroke="#2424a0" stroke-width="1.4" />
<line x1="214.05" y1="346.75" x2="253.69" y2="346.75" stroke="#2424a0" stroke-width="1.5" />
<line x1="233.87" y1="345.14" x2="233.87" y2="348.36" stroke="#2424a0" stroke-width="1.4" />
<line x1="253.69" y1="347.56" x2="293.33" y2="347.56" stroke="#2424a0" stroke-width="1.5" />
<line x1="273.51" y1="344.34" x2="273.51" y2="350.77" stroke="#2424a0" stroke-width="1.4" />
<line x1="293.33" y1="354.16" x2="332.96" y2="354.16" stroke="#2424a0" stroke-width="1.5" />
<line x1="313.14" y1="344.50" x2="313.14" y2="363.82" stroke="#2424a0" stroke-width="1.4" />
<line x1="332.96" y1="359.63" x2="372.60" y2="359.63" stroke="#2424a0" stroke-width="1.5" />
<line x1="352.78" y1="334.19" x2="352.78" y2="385.07" stroke="#2424a0" stroke-width="1.4" />
<line x1="55.50" y1="346.75" x2="372.60" y2="346.75" stroke="#3a2a3a" stroke-width="1.0" />
</g>
<rect x="71.42" y="342.85" width="7.8" height="7.8" fill="none" stroke="#cc3535" stroke-width="1.1"/>
<polygon points="75.32,343.85 79.12,350.65 71.52,350.65" fill="none" stroke="#2424a0" stroke-width="1.1"/>
<rect x="111.06" y="342.85" width="7.8" height="7.8" fill="none" stroke="#cc3535" stroke-width="1.1"/>
<polygon points="114.96,343.85 118.76,350.65 111.16,350.65" fill="none" stroke="#2424a0" stroke-width="1.1"/>
<rect x="150.69" y="342.85" width="7.8" height="7.8" fill="none" stroke="#cc3535" stroke-width="1.1"/>
<polygon points="154.59,343.85 158.39,350.65 150.79,350.65" fill="none" stroke="#2424a0" stroke-width="1.1"/>
<rect x="190.33" y="342.85" width="7.8" height="7.8" fill="none" stroke="#cc3535" stroke-width="1.1"/>
<polygon points="194.23,343.85 198.03,350.65 190.43,350.65" fill="none" stroke="#2424a0" stroke-width="1.1"/>
<rect x="229.97" y="342.85" width="7.8" height="7.8" fill="none" stroke="#cc3535" stroke-width="1.1"/>
<polygon points="233.87,343.85 237.67,350.65 230.07,350.65" fill="none" stroke="#2424a0" stroke-width="1.1"/>
<rect x="269.61" y="342.85" width="7.8" height="7.8" fill="none" stroke="#cc3535" stroke-width="1.1"/>
<polygon points="273.51,344.66 277.31,351.45 269.71,351.45" fill="none" stroke="#2424a0" stroke-width="1.1"/>
<rect x="309.24" y="336.73" width="7.8" height="7.8" fill="none" stroke="#cc3535" stroke-width="1.1"/>
<polygon points="313.14,351.26 316.94,358.06 309.34,358.06" fill="none" stroke="#2424a0" stroke-width="1.1"/>
<rect x="348.88" y="340.92" width="7.8" height="7.8" fill="none" stroke="#cc3535" stroke-width="1.1"/>
<polygon points="352.78,356.73 356.58,363.53 348.98,363.53" fill="none" stroke="#2424a0" stroke-width="1.1"/>
<g clip-path="url(#crr)">
<rect x="470.40" y="346.11" width="4.73" height="1.29" fill="url(#h)"/>
<rect x="475.13" y="346.11" width="4.73" height="1.29" fill="url(#h)"/>
<rect x="479.86" y="346.11" width="4.73" height="1.29" fill="url(#h)"/>
<rect x="484.59" y="346.11" width="9.46" height="1.29" fill="url(#h)"/>
<rect x="494.04" y="346.11" width="9.46" height="1.29" fill="url(#h)"/>
<rect x="503.50" y="346.11" width="9.46" height="1.29" fill="url(#h)"/>
<rect x="512.96" y="346.11" width="9.46" height="1.29" fill="url(#h)"/>
<rect x="522.41" y="346.11" width="9.46" height="1.29" fill="url(#h)"/>
<rect x="531.87" y="346.11" width="9.46" height="1.29" fill="url(#h)"/>
<rect x="541.33" y="346.11" width="9.46" height="1.29" fill="url(#h)"/>
<rect x="550.78" y="341.28" width="23.64" height="10.95" fill="url(#h)"/>
<rect x="574.42" y="339.18" width="23.64" height="15.13" fill="url(#h)"/>
<rect x="598.07" y="337.89" width="23.64" height="17.71" fill="url(#h)"/>
<rect x="621.71" y="336.77" width="23.64" height="19.96" fill="url(#h)"/>
<rect x="645.35" y="333.55" width="47.28" height="26.40" fill="url(#h)"/>
<rect x="692.63" y="325.82" width="47.28" height="41.86" fill="url(#h)"/>
<rect x="739.92" y="314.55" width="47.28" height="64.40" fill="url(#h)"/>
<line x1="470.40" y1="346.75" x2="475.13" y2="346.75" stroke="#cc3535" stroke-width="1.5" />
<line x1="472.76" y1="346.11" x2="472.76" y2="347.39" stroke="#cc3535" stroke-width="1.4" />
<line x1="475.13" y1="346.75" x2="479.86" y2="346.75" stroke="#cc3535" stroke-width="1.5" />
<line x1="477.49" y1="346.11" x2="477.49" y2="347.39" stroke="#cc3535" stroke-width="1.4" />
<line x1="479.86" y1="346.75" x2="484.59" y2="346.75" stroke="#cc3535" stroke-width="1.5" />
<line x1="482.22" y1="346.11" x2="482.22" y2="347.39" stroke="#cc3535" stroke-width="1.4" />
<line x1="484.59" y1="346.75" x2="494.04" y2="346.75" stroke="#cc3535" stroke-width="1.5" />
<line x1="489.31" y1="346.11" x2="489.31" y2="347.39" stroke="#cc3535" stroke-width="1.4" />
<line x1="494.04" y1="346.75" x2="503.50" y2="346.75" stroke="#cc3535" stroke-width="1.5" />
<line x1="498.77" y1="346.11" x2="498.77" y2="347.39" stroke="#cc3535" stroke-width="1.4" />
<line x1="503.50" y1="346.75" x2="512.96" y2="346.75" stroke="#cc3535" stroke-width="1.5" />
<line x1="508.23" y1="346.11" x2="508.23" y2="347.39" stroke="#cc3535" stroke-width="1.4" />
<line x1="512.96" y1="346.75" x2="522.41" y2="346.75" stroke="#cc3535" stroke-width="1.5" />
<line x1="517.68" y1="346.11" x2="517.68" y2="347.39" stroke="#cc3535" stroke-width="1.4" />
<line x1="522.41" y1="346.75" x2="531.87" y2="346.75" stroke="#cc3535" stroke-width="1.5" />
<line x1="527.14" y1="346.11" x2="527.14" y2="347.39" stroke="#cc3535" stroke-width="1.4" />
<line x1="531.87" y1="350.77" x2="541.33" y2="350.77" stroke="#cc3535" stroke-width="1.5" />
<line x1="536.60" y1="350.13" x2="536.60" y2="351.42" stroke="#cc3535" stroke-width="1.4" />
<line x1="541.33" y1="346.75" x2="550.78" y2="346.75" stroke="#cc3535" stroke-width="1.5" />
<line x1="546.05" y1="346.11" x2="546.05" y2="347.39" stroke="#cc3535" stroke-width="1.4" />
<line x1="550.78" y1="346.75" x2="574.42" y2="346.75" stroke="#cc3535" stroke-width="1.5" />
<line x1="562.60" y1="342.73" x2="562.60" y2="350.77" stroke="#cc3535" stroke-width="1.4" />
<line x1="574.42" y1="346.75" x2="598.07" y2="346.75" stroke="#cc3535" stroke-width="1.5" />
<line x1="586.24" y1="339.18" x2="586.24" y2="354.32" stroke="#cc3535" stroke-width="1.4" />
<line x1="598.07" y1="346.75" x2="621.71" y2="346.75" stroke="#cc3535" stroke-width="1.5" />
<line x1="609.89" y1="337.09" x2="609.89" y2="356.41" stroke="#cc3535" stroke-width="1.4" />
<line x1="621.71" y1="341.92" x2="645.35" y2="341.92" stroke="#cc3535" stroke-width="1.5" />
<line x1="633.53" y1="330.01" x2="633.53" y2="353.83" stroke="#cc3535" stroke-width="1.4" />
<line x1="645.35" y1="346.75" x2="692.63" y2="346.75" stroke="#cc3535" stroke-width="1.5" />
<line x1="668.99" y1="333.06" x2="668.99" y2="360.44" stroke="#cc3535" stroke-width="1.4" />
<line x1="692.63" y1="340.79" x2="739.92" y2="340.79" stroke="#cc3535" stroke-width="1.5" />
<line x1="716.27" y1="316.16" x2="716.27" y2="365.43" stroke="#cc3535" stroke-width="1.4" />
<line x1="739.92" y1="359.31" x2="787.20" y2="359.31" stroke="#cc3535" stroke-width="1.5" />
<line x1="763.56" y1="311.01" x2="763.56" y2="407.61" stroke="#cc3535" stroke-width="1.4" />
<line x1="470.40" y1="347.56" x2="475.13" y2="347.56" stroke="#2424a0" stroke-width="1.5" />
<line x1="472.76" y1="346.91" x2="472.76" y2="348.20" stroke="#2424a0" stroke-width="1.4" />
<line x1="475.13" y1="347.56" x2="479.86" y2="347.56" stroke="#2424a0" stroke-width="1.5" />
<line x1="477.49" y1="346.91" x2="477.49" y2="348.20" stroke="#2424a0" stroke-width="1.4" />
<line x1="479.86" y1="347.56" x2="484.59" y2="347.56" stroke="#2424a0" stroke-width="1.5" />
<line x1="482.22" y1="346.91" x2="482.22" y2="348.20" stroke="#2424a0" stroke-width="1.4" />
<line x1="484.59" y1="346.75" x2="494.04" y2="346.75" stroke="#2424a0" stroke-width="1.5" />
<line x1="489.31" y1="346.11" x2="489.31" y2="347.39" stroke="#2424a0" stroke-width="1.4" />
<line x1="494.04" y1="346.75" x2="503.50" y2="346.75" stroke="#2424a0" stroke-width="1.5" />
<line x1="498.77" y1="346.11" x2="498.77" y2="347.39" stroke="#2424a0" stroke-width="1.4" />
<line x1="503.50" y1="346.75" x2="512.96" y2="346.75" stroke="#2424a0" stroke-width="1.5" />
<line x1="508.23" y1="346.11" x2="508.23" y2="347.39" stroke="#2424a0" stroke-width="1.4" />
<line x1="512.96" y1="346.75" x2="522.41" y2="346.75" stroke="#2424a0" stroke-width="1.5" />
<line x1="517.68" y1="346.11" x2="517.68" y2="347.39" stroke="#2424a0" stroke-width="1.4" />
<line x1="522.41" y1="346.75" x2="531.87" y2="346.75" stroke="#2424a0" stroke-width="1.5" />
<line x1="527.14" y1="346.11" x2="527.14" y2="347.39" stroke="#2424a0" stroke-width="1.4" />
<line x1="531.87" y1="343.53" x2="541.33" y2="343.53" stroke="#2424a0" stroke-width="1.5" />
<line x1="536.60" y1="342.89" x2="536.60" y2="344.17" stroke="#2424a0" stroke-width="1.4" />
<line x1="541.33" y1="346.75" x2="550.78" y2="346.75" stroke="#2424a0" stroke-width="1.5" />
<line x1="546.05" y1="346.11" x2="546.05" y2="347.39" stroke="#2424a0" stroke-width="1.4" />
<line x1="550.78" y1="346.75" x2="574.42" y2="346.75" stroke="#2424a0" stroke-width="1.5" />
<line x1="562.60" y1="342.73" x2="562.60" y2="350.77" stroke="#2424a0" stroke-width="1.4" />
<line x1="574.42" y1="347.56" x2="598.07" y2="347.56" stroke="#2424a0" stroke-width="1.5" />
<line x1="586.24" y1="339.99" x2="586.24" y2="355.12" stroke="#2424a0" stroke-width="1.4" />
<line x1="598.07" y1="346.75" x2="621.71" y2="346.75" stroke="#2424a0" stroke-width="1.5" />
<line x1="609.89" y1="337.09" x2="609.89" y2="356.41" stroke="#2424a0" stroke-width="1.4" />
<line x1="621.71" y1="349.49" x2="645.35" y2="349.49" stroke="#2424a0" stroke-width="1.5" />
<line x1="633.53" y1="337.89" x2="633.53" y2="361.08" stroke="#2424a0" stroke-width="1.4" />
<line x1="645.35" y1="346.75" x2="692.63" y2="346.75" stroke="#2424a0" stroke-width="1.5" />
<line x1="668.99" y1="333.06" x2="668.99" y2="360.44" stroke="#2424a0" stroke-width="1.4" />
<line x1="692.63" y1="351.90" x2="739.92" y2="351.90" stroke="#2424a0" stroke-width="1.5" />
<line x1="716.27" y1="330.17" x2="716.27" y2="373.64" stroke="#2424a0" stroke-width="1.4" />
<line x1="739.92" y1="333.06" x2="787.20" y2="333.06" stroke="#2424a0" stroke-width="1.5" />
<line x1="763.56" y1="284.76" x2="763.56" y2="381.37" stroke="#2424a0" stroke-width="1.4" />
<line x1="470.40" y1="346.75" x2="787.20" y2="346.75" stroke="#3a2a3a" stroke-width="1.0" />
</g>
<rect x="468.86" y="342.85" width="7.8" height="7.8" fill="none" stroke="#cc3535" stroke-width="1.1"/>
<polygon points="472.76,344.66 476.56,351.45 468.96,351.45" fill="none" stroke="#2424a0" stroke-width="1.1"/>
<rect x="473.59" y="342.85" width="7.8" height="7.8" fill="none" stroke="#cc3535" stroke-width="1.1"/>
<polygon points="477.49,344.66 481.29,351.45 473.69,351.45" fill="none" stroke="#2424a0" stroke-width="1.1"/>
<rect x="478.32" y="342.85" width="7.8" height="7.8" fill="none" stroke="#cc3535" stroke-width="1.1"/>
<polygon points="482.22,344.66 486.02,351.45 478.42,351.45" fill="none" stroke="#2424a0" stroke-width="1.1"/>
<rect x="485.41" y="342.85" width="7.8" height="7.8" fill="none" stroke="#cc3535" stroke-width="1.1"/>
<polygon points="489.31,343.85 493.11,350.65 485.51,350.65" fill="none" stroke="#2424a0" stroke-width="1.1"/>
<rect x="494.87" y="342.85" width="7.8" height="7.8" fill="none" stroke="#cc3535" stroke-width="1.1"/>
<polygon points="498.77,343.85 502.57,350.65 494.97,350.65" fill="none" stroke="#2424a0" stroke-width="1.1"/>
<rect x="504.33" y="342.85" width="7.8" height="7.8" fill="none" stroke="#cc3535" stroke-width="1.1"/>
<polygon points="508.23,343.85 512.03,350.65 504.43,350.65" fill="none" stroke="#2424a0" stroke-width="1.1"/>
<rect x="513.78" y="342.85" width="7.8" height="7.8" fill="none" stroke="#cc3535" stroke-width="1.1"/>
<polygon points="517.68,343.85 521.48,350.65 513.88,350.65" fill="none" stroke="#2424a0" stroke-width="1.1"/>
<rect x="523.24" y="342.85" width="7.8" height="7.8" fill="none" stroke="#cc3535" stroke-width="1.1"/>
<polygon points="527.14,343.85 530.94,350.65 523.34,350.65" fill="none" stroke="#2424a0" stroke-width="1.1"/>
<rect x="532.70" y="346.88" width="7.8" height="7.8" fill="none" stroke="#cc3535" stroke-width="1.1"/>
<polygon points="536.60,340.63 540.40,347.43 532.80,347.43" fill="none" stroke="#2424a0" stroke-width="1.1"/>
<rect x="542.15" y="342.85" width="7.8" height="7.8" fill="none" stroke="#cc3535" stroke-width="1.1"/>
<polygon points="546.05,343.85 549.85,350.65 542.25,350.65" fill="none" stroke="#2424a0" stroke-width="1.1"/>
<rect x="558.70" y="342.85" width="7.8" height="7.8" fill="none" stroke="#cc3535" stroke-width="1.1"/>
<polygon points="562.60,343.85 566.40,350.65 558.80,350.65" fill="none" stroke="#2424a0" stroke-width="1.1"/>
<rect x="582.34" y="342.85" width="7.8" height="7.8" fill="none" stroke="#cc3535" stroke-width="1.1"/>
<polygon points="586.24,344.66 590.04,351.45 582.44,351.45" fill="none" stroke="#2424a0" stroke-width="1.1"/>
<rect x="605.99" y="342.85" width="7.8" height="7.8" fill="none" stroke="#cc3535" stroke-width="1.1"/>
<polygon points="609.89,343.85 613.69,350.65 606.09,350.65" fill="none" stroke="#2424a0" stroke-width="1.1"/>
<rect x="629.63" y="338.02" width="7.8" height="7.8" fill="none" stroke="#cc3535" stroke-width="1.1"/>
<polygon points="633.53,346.59 637.33,353.39 629.73,353.39" fill="none" stroke="#2424a0" stroke-width="1.1"/>
<rect x="665.09" y="342.85" width="7.8" height="7.8" fill="none" stroke="#cc3535" stroke-width="1.1"/>
<polygon points="668.99,343.85 672.79,350.65 665.19,350.65" fill="none" stroke="#2424a0" stroke-width="1.1"/>
<rect x="712.37" y="336.89" width="7.8" height="7.8" fill="none" stroke="#cc3535" stroke-width="1.1"/>
<polygon points="716.27,349.00 720.07,355.80 712.47,355.80" fill="none" stroke="#2424a0" stroke-width="1.1"/>
<rect x="759.66" y="355.41" width="7.8" height="7.8" fill="none" stroke="#cc3535" stroke-width="1.1"/>
<polygon points="763.56,330.17 767.36,336.96 759.76,336.96" fill="none" stroke="#2424a0" stroke-width="1.1"/>
</svg>
</body></html>
